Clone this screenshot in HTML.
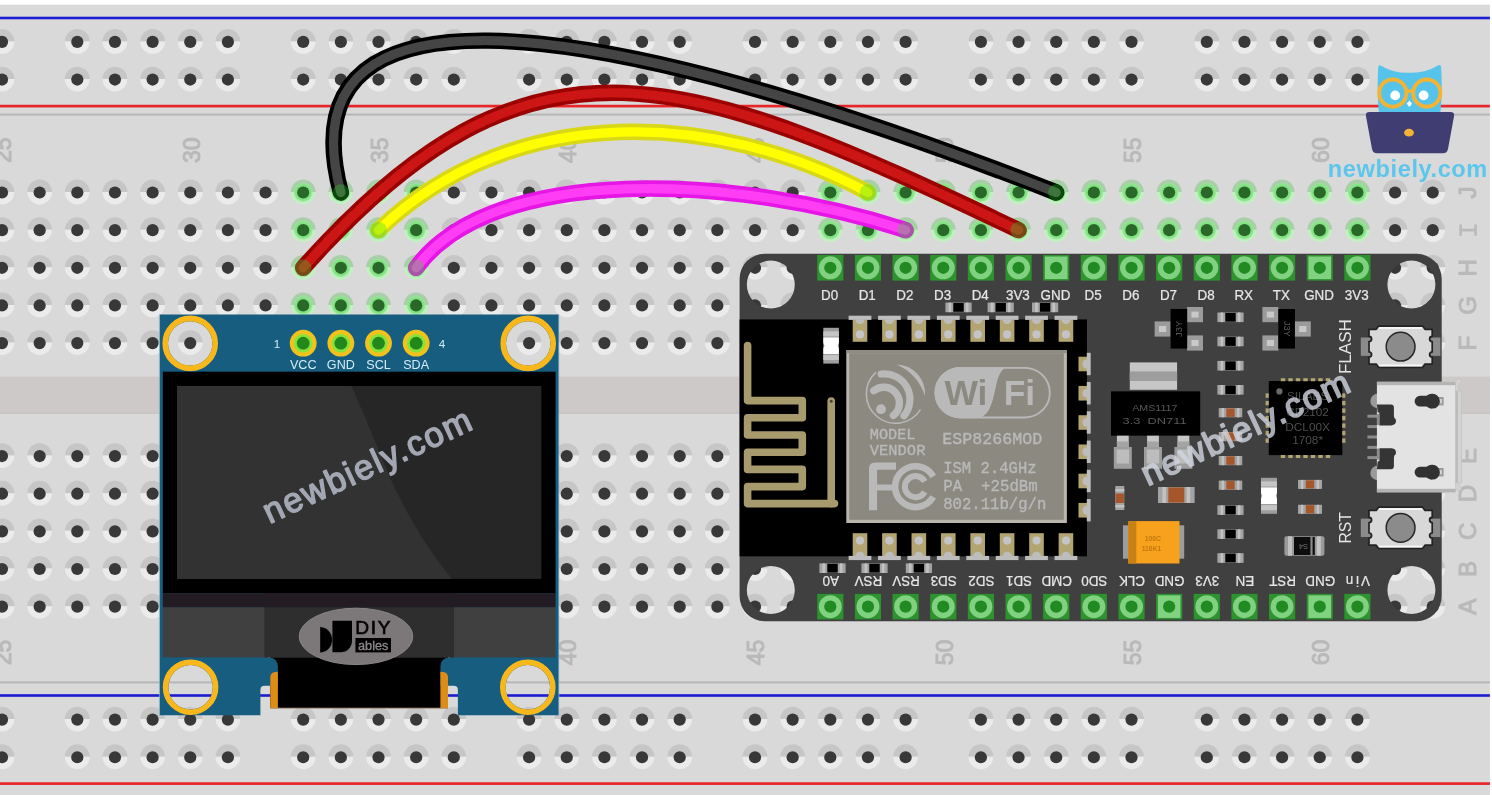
<!DOCTYPE html>
<html><head><meta charset="utf-8"><title>ESP8266 OLED wiring</title>
<style>
html,body{margin:0;padding:0;background:#fff;}
body{width:1492px;height:795px;overflow:hidden;font-family:"Liberation Sans",sans-serif;}
svg{display:block;}
</style></head><body>
<svg width="1492" height="795" viewBox="0 0 1492 795">
<defs><filter id="soft" filterUnits="userSpaceOnUse" x="-20" y="-20" width="1532" height="835"><feGaussianBlur stdDeviation="0.5"/></filter></defs>
<g filter="url(#soft)">
<defs>
<radialGradient id="glow"><stop offset="0" stop-color="#6fe06f"/><stop offset="0.8" stop-color="#82e482"/><stop offset="1" stop-color="#9be89b" stop-opacity="0.5"/></radialGradient>
<g id="h"><path d="M-12.4,-0.5 A12.4,12.4 0 0 1 12.4,-0.5 Z" fill="#c6c6c6"/><path d="M-12.4,-0.5 A12.4,12.4 0 0 0 12.4,-0.5 Z" fill="#ebebeb"/><circle r="6.1" fill="#383838"/></g>
<g id="g"><path d="M-12.4,-0.5 A12.4,12.4 0 0 1 12.4,-0.5 Z" fill="#a9cfa9"/><path d="M-12.4,-0.5 A12.4,12.4 0 0 0 12.4,-0.5 Z" fill="#c3efc3"/><circle r="9.6" fill="url(#glow)"/><circle r="6.1" fill="#2c672c"/></g>
</defs>
<rect x="-20" y="-20" width="1532" height="835" fill="#ffffff"/>
<rect x="-20" y="4.6" width="1509.9" height="811" fill="#d9d9d9"/>
<rect x="-20" y="376.6" width="1509.9" height="37.4" fill="#cdc9c8"/><rect x="-20" y="411.8" width="1509.9" height="2.2" fill="#c9c5c4"/>
<rect x="-20" y="16.70" width="1509.9" height="2.6" fill="#1b1bd2"/>
<rect x="-20" y="104.75" width="1509.9" height="2.7" fill="#e8262a"/>
<rect x="-20" y="113.60" width="1509.9" height="2.0" fill="#b7b7b7"/>
<rect x="-20" y="681.40" width="1509.9" height="2.0" fill="#b7b7b7"/>
<rect x="-20" y="694.20" width="1509.9" height="2.6" fill="#1b1bd2"/>
<rect x="-20" y="782.25" width="1509.9" height="2.7" fill="#e8262a"/>
<use href="#h" x="-35.65" y="192.50"/>
<use href="#h" x="-35.65" y="230.15"/>
<use href="#h" x="-35.65" y="267.80"/>
<use href="#h" x="-35.65" y="305.45"/>
<use href="#h" x="-35.65" y="343.10"/>
<use href="#h" x="-35.65" y="456.05"/>
<use href="#h" x="-35.65" y="493.70"/>
<use href="#h" x="-35.65" y="531.35"/>
<use href="#h" x="-35.65" y="569.00"/>
<use href="#h" x="-35.65" y="606.65"/>
<use href="#h" x="-35.65" y="41.90"/>
<use href="#h" x="-35.65" y="79.55"/>
<use href="#h" x="-35.65" y="719.60"/>
<use href="#h" x="-35.65" y="757.25"/>
<use href="#h" x="2.00" y="192.50"/>
<use href="#h" x="2.00" y="230.15"/>
<use href="#h" x="2.00" y="267.80"/>
<use href="#h" x="2.00" y="305.45"/>
<use href="#h" x="2.00" y="343.10"/>
<use href="#h" x="2.00" y="456.05"/>
<use href="#h" x="2.00" y="493.70"/>
<use href="#h" x="2.00" y="531.35"/>
<use href="#h" x="2.00" y="569.00"/>
<use href="#h" x="2.00" y="606.65"/>
<use href="#h" x="2.00" y="41.90"/>
<use href="#h" x="2.00" y="79.55"/>
<use href="#h" x="2.00" y="719.60"/>
<use href="#h" x="2.00" y="757.25"/>
<use href="#h" x="39.65" y="192.50"/>
<use href="#h" x="39.65" y="230.15"/>
<use href="#h" x="39.65" y="267.80"/>
<use href="#h" x="39.65" y="305.45"/>
<use href="#h" x="39.65" y="343.10"/>
<use href="#h" x="39.65" y="456.05"/>
<use href="#h" x="39.65" y="493.70"/>
<use href="#h" x="39.65" y="531.35"/>
<use href="#h" x="39.65" y="569.00"/>
<use href="#h" x="39.65" y="606.65"/>
<use href="#h" x="77.30" y="192.50"/>
<use href="#h" x="77.30" y="230.15"/>
<use href="#h" x="77.30" y="267.80"/>
<use href="#h" x="77.30" y="305.45"/>
<use href="#h" x="77.30" y="343.10"/>
<use href="#h" x="77.30" y="456.05"/>
<use href="#h" x="77.30" y="493.70"/>
<use href="#h" x="77.30" y="531.35"/>
<use href="#h" x="77.30" y="569.00"/>
<use href="#h" x="77.30" y="606.65"/>
<use href="#h" x="77.30" y="41.90"/>
<use href="#h" x="77.30" y="79.55"/>
<use href="#h" x="77.30" y="719.60"/>
<use href="#h" x="77.30" y="757.25"/>
<use href="#h" x="114.95" y="192.50"/>
<use href="#h" x="114.95" y="230.15"/>
<use href="#h" x="114.95" y="267.80"/>
<use href="#h" x="114.95" y="305.45"/>
<use href="#h" x="114.95" y="343.10"/>
<use href="#h" x="114.95" y="456.05"/>
<use href="#h" x="114.95" y="493.70"/>
<use href="#h" x="114.95" y="531.35"/>
<use href="#h" x="114.95" y="569.00"/>
<use href="#h" x="114.95" y="606.65"/>
<use href="#h" x="114.95" y="41.90"/>
<use href="#h" x="114.95" y="79.55"/>
<use href="#h" x="114.95" y="719.60"/>
<use href="#h" x="114.95" y="757.25"/>
<use href="#h" x="152.60" y="192.50"/>
<use href="#h" x="152.60" y="230.15"/>
<use href="#h" x="152.60" y="267.80"/>
<use href="#h" x="152.60" y="305.45"/>
<use href="#h" x="152.60" y="343.10"/>
<use href="#h" x="152.60" y="456.05"/>
<use href="#h" x="152.60" y="493.70"/>
<use href="#h" x="152.60" y="531.35"/>
<use href="#h" x="152.60" y="569.00"/>
<use href="#h" x="152.60" y="606.65"/>
<use href="#h" x="152.60" y="41.90"/>
<use href="#h" x="152.60" y="79.55"/>
<use href="#h" x="152.60" y="719.60"/>
<use href="#h" x="152.60" y="757.25"/>
<use href="#h" x="190.25" y="192.50"/>
<use href="#h" x="190.25" y="230.15"/>
<use href="#h" x="190.25" y="267.80"/>
<use href="#h" x="190.25" y="305.45"/>
<use href="#h" x="190.25" y="343.10"/>
<use href="#h" x="190.25" y="456.05"/>
<use href="#h" x="190.25" y="493.70"/>
<use href="#h" x="190.25" y="531.35"/>
<use href="#h" x="190.25" y="569.00"/>
<use href="#h" x="190.25" y="606.65"/>
<use href="#h" x="190.25" y="41.90"/>
<use href="#h" x="190.25" y="79.55"/>
<use href="#h" x="190.25" y="719.60"/>
<use href="#h" x="190.25" y="757.25"/>
<use href="#h" x="227.90" y="192.50"/>
<use href="#h" x="227.90" y="230.15"/>
<use href="#h" x="227.90" y="267.80"/>
<use href="#h" x="227.90" y="305.45"/>
<use href="#h" x="227.90" y="343.10"/>
<use href="#h" x="227.90" y="456.05"/>
<use href="#h" x="227.90" y="493.70"/>
<use href="#h" x="227.90" y="531.35"/>
<use href="#h" x="227.90" y="569.00"/>
<use href="#h" x="227.90" y="606.65"/>
<use href="#h" x="227.90" y="41.90"/>
<use href="#h" x="227.90" y="79.55"/>
<use href="#h" x="227.90" y="719.60"/>
<use href="#h" x="227.90" y="757.25"/>
<use href="#h" x="265.55" y="192.50"/>
<use href="#h" x="265.55" y="230.15"/>
<use href="#h" x="265.55" y="267.80"/>
<use href="#h" x="265.55" y="305.45"/>
<use href="#h" x="265.55" y="343.10"/>
<use href="#h" x="265.55" y="456.05"/>
<use href="#h" x="265.55" y="493.70"/>
<use href="#h" x="265.55" y="531.35"/>
<use href="#h" x="265.55" y="569.00"/>
<use href="#h" x="265.55" y="606.65"/>
<use href="#g" x="303.20" y="192.50"/>
<use href="#g" x="303.20" y="230.15"/>
<use href="#g" x="303.20" y="267.80"/>
<use href="#g" x="303.20" y="305.45"/>
<use href="#g" x="303.20" y="343.10"/>
<use href="#h" x="303.20" y="456.05"/>
<use href="#h" x="303.20" y="493.70"/>
<use href="#h" x="303.20" y="531.35"/>
<use href="#h" x="303.20" y="569.00"/>
<use href="#h" x="303.20" y="606.65"/>
<use href="#h" x="303.20" y="41.90"/>
<use href="#h" x="303.20" y="79.55"/>
<use href="#h" x="303.20" y="719.60"/>
<use href="#h" x="303.20" y="757.25"/>
<use href="#g" x="340.85" y="192.50"/>
<use href="#g" x="340.85" y="230.15"/>
<use href="#g" x="340.85" y="267.80"/>
<use href="#g" x="340.85" y="305.45"/>
<use href="#g" x="340.85" y="343.10"/>
<use href="#h" x="340.85" y="456.05"/>
<use href="#h" x="340.85" y="493.70"/>
<use href="#h" x="340.85" y="531.35"/>
<use href="#h" x="340.85" y="569.00"/>
<use href="#h" x="340.85" y="606.65"/>
<use href="#h" x="340.85" y="41.90"/>
<use href="#h" x="340.85" y="79.55"/>
<use href="#h" x="340.85" y="719.60"/>
<use href="#h" x="340.85" y="757.25"/>
<use href="#g" x="378.50" y="192.50"/>
<use href="#g" x="378.50" y="230.15"/>
<use href="#g" x="378.50" y="267.80"/>
<use href="#g" x="378.50" y="305.45"/>
<use href="#g" x="378.50" y="343.10"/>
<use href="#h" x="378.50" y="456.05"/>
<use href="#h" x="378.50" y="493.70"/>
<use href="#h" x="378.50" y="531.35"/>
<use href="#h" x="378.50" y="569.00"/>
<use href="#h" x="378.50" y="606.65"/>
<use href="#h" x="378.50" y="41.90"/>
<use href="#h" x="378.50" y="79.55"/>
<use href="#h" x="378.50" y="719.60"/>
<use href="#h" x="378.50" y="757.25"/>
<use href="#g" x="416.15" y="192.50"/>
<use href="#g" x="416.15" y="230.15"/>
<use href="#g" x="416.15" y="267.80"/>
<use href="#g" x="416.15" y="305.45"/>
<use href="#g" x="416.15" y="343.10"/>
<use href="#h" x="416.15" y="456.05"/>
<use href="#h" x="416.15" y="493.70"/>
<use href="#h" x="416.15" y="531.35"/>
<use href="#h" x="416.15" y="569.00"/>
<use href="#h" x="416.15" y="606.65"/>
<use href="#h" x="416.15" y="41.90"/>
<use href="#h" x="416.15" y="79.55"/>
<use href="#h" x="416.15" y="719.60"/>
<use href="#h" x="416.15" y="757.25"/>
<use href="#h" x="453.80" y="192.50"/>
<use href="#h" x="453.80" y="230.15"/>
<use href="#h" x="453.80" y="267.80"/>
<use href="#h" x="453.80" y="305.45"/>
<use href="#h" x="453.80" y="343.10"/>
<use href="#h" x="453.80" y="456.05"/>
<use href="#h" x="453.80" y="493.70"/>
<use href="#h" x="453.80" y="531.35"/>
<use href="#h" x="453.80" y="569.00"/>
<use href="#h" x="453.80" y="606.65"/>
<use href="#h" x="453.80" y="41.90"/>
<use href="#h" x="453.80" y="79.55"/>
<use href="#h" x="453.80" y="719.60"/>
<use href="#h" x="453.80" y="757.25"/>
<use href="#h" x="491.45" y="192.50"/>
<use href="#h" x="491.45" y="230.15"/>
<use href="#h" x="491.45" y="267.80"/>
<use href="#h" x="491.45" y="305.45"/>
<use href="#h" x="491.45" y="343.10"/>
<use href="#h" x="491.45" y="456.05"/>
<use href="#h" x="491.45" y="493.70"/>
<use href="#h" x="491.45" y="531.35"/>
<use href="#h" x="491.45" y="569.00"/>
<use href="#h" x="491.45" y="606.65"/>
<use href="#h" x="529.10" y="192.50"/>
<use href="#h" x="529.10" y="230.15"/>
<use href="#h" x="529.10" y="267.80"/>
<use href="#h" x="529.10" y="305.45"/>
<use href="#h" x="529.10" y="343.10"/>
<use href="#h" x="529.10" y="456.05"/>
<use href="#h" x="529.10" y="493.70"/>
<use href="#h" x="529.10" y="531.35"/>
<use href="#h" x="529.10" y="569.00"/>
<use href="#h" x="529.10" y="606.65"/>
<use href="#h" x="529.10" y="41.90"/>
<use href="#h" x="529.10" y="79.55"/>
<use href="#h" x="529.10" y="719.60"/>
<use href="#h" x="529.10" y="757.25"/>
<use href="#h" x="566.75" y="192.50"/>
<use href="#h" x="566.75" y="230.15"/>
<use href="#h" x="566.75" y="267.80"/>
<use href="#h" x="566.75" y="305.45"/>
<use href="#h" x="566.75" y="343.10"/>
<use href="#h" x="566.75" y="456.05"/>
<use href="#h" x="566.75" y="493.70"/>
<use href="#h" x="566.75" y="531.35"/>
<use href="#h" x="566.75" y="569.00"/>
<use href="#h" x="566.75" y="606.65"/>
<use href="#h" x="566.75" y="41.90"/>
<use href="#h" x="566.75" y="79.55"/>
<use href="#h" x="566.75" y="719.60"/>
<use href="#h" x="566.75" y="757.25"/>
<use href="#h" x="604.40" y="192.50"/>
<use href="#h" x="604.40" y="230.15"/>
<use href="#h" x="604.40" y="267.80"/>
<use href="#h" x="604.40" y="305.45"/>
<use href="#h" x="604.40" y="343.10"/>
<use href="#h" x="604.40" y="456.05"/>
<use href="#h" x="604.40" y="493.70"/>
<use href="#h" x="604.40" y="531.35"/>
<use href="#h" x="604.40" y="569.00"/>
<use href="#h" x="604.40" y="606.65"/>
<use href="#h" x="604.40" y="41.90"/>
<use href="#h" x="604.40" y="79.55"/>
<use href="#h" x="604.40" y="719.60"/>
<use href="#h" x="604.40" y="757.25"/>
<use href="#h" x="642.05" y="192.50"/>
<use href="#h" x="642.05" y="230.15"/>
<use href="#h" x="642.05" y="267.80"/>
<use href="#h" x="642.05" y="305.45"/>
<use href="#h" x="642.05" y="343.10"/>
<use href="#h" x="642.05" y="456.05"/>
<use href="#h" x="642.05" y="493.70"/>
<use href="#h" x="642.05" y="531.35"/>
<use href="#h" x="642.05" y="569.00"/>
<use href="#h" x="642.05" y="606.65"/>
<use href="#h" x="642.05" y="41.90"/>
<use href="#h" x="642.05" y="79.55"/>
<use href="#h" x="642.05" y="719.60"/>
<use href="#h" x="642.05" y="757.25"/>
<use href="#h" x="679.70" y="192.50"/>
<use href="#h" x="679.70" y="230.15"/>
<use href="#h" x="679.70" y="267.80"/>
<use href="#h" x="679.70" y="305.45"/>
<use href="#h" x="679.70" y="343.10"/>
<use href="#h" x="679.70" y="456.05"/>
<use href="#h" x="679.70" y="493.70"/>
<use href="#h" x="679.70" y="531.35"/>
<use href="#h" x="679.70" y="569.00"/>
<use href="#h" x="679.70" y="606.65"/>
<use href="#h" x="679.70" y="41.90"/>
<use href="#h" x="679.70" y="79.55"/>
<use href="#h" x="679.70" y="719.60"/>
<use href="#h" x="679.70" y="757.25"/>
<use href="#h" x="717.35" y="192.50"/>
<use href="#h" x="717.35" y="230.15"/>
<use href="#h" x="717.35" y="267.80"/>
<use href="#h" x="717.35" y="305.45"/>
<use href="#h" x="717.35" y="343.10"/>
<use href="#h" x="717.35" y="456.05"/>
<use href="#h" x="717.35" y="493.70"/>
<use href="#h" x="717.35" y="531.35"/>
<use href="#h" x="717.35" y="569.00"/>
<use href="#h" x="717.35" y="606.65"/>
<use href="#h" x="755.00" y="192.50"/>
<use href="#h" x="755.00" y="230.15"/>
<use href="#h" x="755.00" y="267.80"/>
<use href="#h" x="755.00" y="305.45"/>
<use href="#h" x="755.00" y="343.10"/>
<use href="#h" x="755.00" y="456.05"/>
<use href="#h" x="755.00" y="493.70"/>
<use href="#h" x="755.00" y="531.35"/>
<use href="#h" x="755.00" y="569.00"/>
<use href="#h" x="755.00" y="606.65"/>
<use href="#h" x="755.00" y="41.90"/>
<use href="#h" x="755.00" y="79.55"/>
<use href="#h" x="755.00" y="719.60"/>
<use href="#h" x="755.00" y="757.25"/>
<use href="#h" x="792.65" y="192.50"/>
<use href="#h" x="792.65" y="230.15"/>
<use href="#h" x="792.65" y="267.80"/>
<use href="#h" x="792.65" y="305.45"/>
<use href="#h" x="792.65" y="343.10"/>
<use href="#h" x="792.65" y="456.05"/>
<use href="#h" x="792.65" y="493.70"/>
<use href="#h" x="792.65" y="531.35"/>
<use href="#h" x="792.65" y="569.00"/>
<use href="#h" x="792.65" y="606.65"/>
<use href="#h" x="792.65" y="41.90"/>
<use href="#h" x="792.65" y="79.55"/>
<use href="#h" x="792.65" y="719.60"/>
<use href="#h" x="792.65" y="757.25"/>
<use href="#g" x="830.30" y="192.50"/>
<use href="#g" x="830.30" y="230.15"/>
<use href="#g" x="830.30" y="267.80"/>
<use href="#g" x="830.30" y="305.45"/>
<use href="#g" x="830.30" y="343.10"/>
<use href="#g" x="830.30" y="456.05"/>
<use href="#g" x="830.30" y="493.70"/>
<use href="#g" x="830.30" y="531.35"/>
<use href="#g" x="830.30" y="569.00"/>
<use href="#g" x="830.30" y="606.65"/>
<use href="#h" x="830.30" y="41.90"/>
<use href="#h" x="830.30" y="79.55"/>
<use href="#h" x="830.30" y="719.60"/>
<use href="#h" x="830.30" y="757.25"/>
<use href="#g" x="867.95" y="192.50"/>
<use href="#g" x="867.95" y="230.15"/>
<use href="#g" x="867.95" y="267.80"/>
<use href="#g" x="867.95" y="305.45"/>
<use href="#g" x="867.95" y="343.10"/>
<use href="#g" x="867.95" y="456.05"/>
<use href="#g" x="867.95" y="493.70"/>
<use href="#g" x="867.95" y="531.35"/>
<use href="#g" x="867.95" y="569.00"/>
<use href="#g" x="867.95" y="606.65"/>
<use href="#h" x="867.95" y="41.90"/>
<use href="#h" x="867.95" y="79.55"/>
<use href="#h" x="867.95" y="719.60"/>
<use href="#h" x="867.95" y="757.25"/>
<use href="#g" x="905.60" y="192.50"/>
<use href="#g" x="905.60" y="230.15"/>
<use href="#g" x="905.60" y="267.80"/>
<use href="#g" x="905.60" y="305.45"/>
<use href="#g" x="905.60" y="343.10"/>
<use href="#g" x="905.60" y="456.05"/>
<use href="#g" x="905.60" y="493.70"/>
<use href="#g" x="905.60" y="531.35"/>
<use href="#g" x="905.60" y="569.00"/>
<use href="#g" x="905.60" y="606.65"/>
<use href="#h" x="905.60" y="41.90"/>
<use href="#h" x="905.60" y="79.55"/>
<use href="#h" x="905.60" y="719.60"/>
<use href="#h" x="905.60" y="757.25"/>
<use href="#g" x="943.25" y="192.50"/>
<use href="#g" x="943.25" y="230.15"/>
<use href="#g" x="943.25" y="267.80"/>
<use href="#g" x="943.25" y="305.45"/>
<use href="#g" x="943.25" y="343.10"/>
<use href="#g" x="943.25" y="456.05"/>
<use href="#g" x="943.25" y="493.70"/>
<use href="#g" x="943.25" y="531.35"/>
<use href="#g" x="943.25" y="569.00"/>
<use href="#g" x="943.25" y="606.65"/>
<use href="#g" x="980.90" y="192.50"/>
<use href="#g" x="980.90" y="230.15"/>
<use href="#g" x="980.90" y="267.80"/>
<use href="#g" x="980.90" y="305.45"/>
<use href="#g" x="980.90" y="343.10"/>
<use href="#g" x="980.90" y="456.05"/>
<use href="#g" x="980.90" y="493.70"/>
<use href="#g" x="980.90" y="531.35"/>
<use href="#g" x="980.90" y="569.00"/>
<use href="#g" x="980.90" y="606.65"/>
<use href="#h" x="980.90" y="41.90"/>
<use href="#h" x="980.90" y="79.55"/>
<use href="#h" x="980.90" y="719.60"/>
<use href="#h" x="980.90" y="757.25"/>
<use href="#g" x="1018.55" y="192.50"/>
<use href="#g" x="1018.55" y="230.15"/>
<use href="#g" x="1018.55" y="267.80"/>
<use href="#g" x="1018.55" y="305.45"/>
<use href="#g" x="1018.55" y="343.10"/>
<use href="#g" x="1018.55" y="456.05"/>
<use href="#g" x="1018.55" y="493.70"/>
<use href="#g" x="1018.55" y="531.35"/>
<use href="#g" x="1018.55" y="569.00"/>
<use href="#g" x="1018.55" y="606.65"/>
<use href="#h" x="1018.55" y="41.90"/>
<use href="#h" x="1018.55" y="79.55"/>
<use href="#h" x="1018.55" y="719.60"/>
<use href="#h" x="1018.55" y="757.25"/>
<use href="#g" x="1056.20" y="192.50"/>
<use href="#g" x="1056.20" y="230.15"/>
<use href="#g" x="1056.20" y="267.80"/>
<use href="#g" x="1056.20" y="305.45"/>
<use href="#g" x="1056.20" y="343.10"/>
<use href="#g" x="1056.20" y="456.05"/>
<use href="#g" x="1056.20" y="493.70"/>
<use href="#g" x="1056.20" y="531.35"/>
<use href="#g" x="1056.20" y="569.00"/>
<use href="#g" x="1056.20" y="606.65"/>
<use href="#h" x="1056.20" y="41.90"/>
<use href="#h" x="1056.20" y="79.55"/>
<use href="#h" x="1056.20" y="719.60"/>
<use href="#h" x="1056.20" y="757.25"/>
<use href="#g" x="1093.85" y="192.50"/>
<use href="#g" x="1093.85" y="230.15"/>
<use href="#g" x="1093.85" y="267.80"/>
<use href="#g" x="1093.85" y="305.45"/>
<use href="#g" x="1093.85" y="343.10"/>
<use href="#g" x="1093.85" y="456.05"/>
<use href="#g" x="1093.85" y="493.70"/>
<use href="#g" x="1093.85" y="531.35"/>
<use href="#g" x="1093.85" y="569.00"/>
<use href="#g" x="1093.85" y="606.65"/>
<use href="#h" x="1093.85" y="41.90"/>
<use href="#h" x="1093.85" y="79.55"/>
<use href="#h" x="1093.85" y="719.60"/>
<use href="#h" x="1093.85" y="757.25"/>
<use href="#g" x="1131.50" y="192.50"/>
<use href="#g" x="1131.50" y="230.15"/>
<use href="#g" x="1131.50" y="267.80"/>
<use href="#g" x="1131.50" y="305.45"/>
<use href="#g" x="1131.50" y="343.10"/>
<use href="#g" x="1131.50" y="456.05"/>
<use href="#g" x="1131.50" y="493.70"/>
<use href="#g" x="1131.50" y="531.35"/>
<use href="#g" x="1131.50" y="569.00"/>
<use href="#g" x="1131.50" y="606.65"/>
<use href="#h" x="1131.50" y="41.90"/>
<use href="#h" x="1131.50" y="79.55"/>
<use href="#h" x="1131.50" y="719.60"/>
<use href="#h" x="1131.50" y="757.25"/>
<use href="#g" x="1169.15" y="192.50"/>
<use href="#g" x="1169.15" y="230.15"/>
<use href="#g" x="1169.15" y="267.80"/>
<use href="#g" x="1169.15" y="305.45"/>
<use href="#g" x="1169.15" y="343.10"/>
<use href="#g" x="1169.15" y="456.05"/>
<use href="#g" x="1169.15" y="493.70"/>
<use href="#g" x="1169.15" y="531.35"/>
<use href="#g" x="1169.15" y="569.00"/>
<use href="#g" x="1169.15" y="606.65"/>
<use href="#g" x="1206.80" y="192.50"/>
<use href="#g" x="1206.80" y="230.15"/>
<use href="#g" x="1206.80" y="267.80"/>
<use href="#g" x="1206.80" y="305.45"/>
<use href="#g" x="1206.80" y="343.10"/>
<use href="#g" x="1206.80" y="456.05"/>
<use href="#g" x="1206.80" y="493.70"/>
<use href="#g" x="1206.80" y="531.35"/>
<use href="#g" x="1206.80" y="569.00"/>
<use href="#g" x="1206.80" y="606.65"/>
<use href="#h" x="1206.80" y="41.90"/>
<use href="#h" x="1206.80" y="79.55"/>
<use href="#h" x="1206.80" y="719.60"/>
<use href="#h" x="1206.80" y="757.25"/>
<use href="#g" x="1244.45" y="192.50"/>
<use href="#g" x="1244.45" y="230.15"/>
<use href="#g" x="1244.45" y="267.80"/>
<use href="#g" x="1244.45" y="305.45"/>
<use href="#g" x="1244.45" y="343.10"/>
<use href="#g" x="1244.45" y="456.05"/>
<use href="#g" x="1244.45" y="493.70"/>
<use href="#g" x="1244.45" y="531.35"/>
<use href="#g" x="1244.45" y="569.00"/>
<use href="#g" x="1244.45" y="606.65"/>
<use href="#h" x="1244.45" y="41.90"/>
<use href="#h" x="1244.45" y="79.55"/>
<use href="#h" x="1244.45" y="719.60"/>
<use href="#h" x="1244.45" y="757.25"/>
<use href="#g" x="1282.10" y="192.50"/>
<use href="#g" x="1282.10" y="230.15"/>
<use href="#g" x="1282.10" y="267.80"/>
<use href="#g" x="1282.10" y="305.45"/>
<use href="#g" x="1282.10" y="343.10"/>
<use href="#g" x="1282.10" y="456.05"/>
<use href="#g" x="1282.10" y="493.70"/>
<use href="#g" x="1282.10" y="531.35"/>
<use href="#g" x="1282.10" y="569.00"/>
<use href="#g" x="1282.10" y="606.65"/>
<use href="#h" x="1282.10" y="41.90"/>
<use href="#h" x="1282.10" y="79.55"/>
<use href="#h" x="1282.10" y="719.60"/>
<use href="#h" x="1282.10" y="757.25"/>
<use href="#g" x="1319.75" y="192.50"/>
<use href="#g" x="1319.75" y="230.15"/>
<use href="#g" x="1319.75" y="267.80"/>
<use href="#g" x="1319.75" y="305.45"/>
<use href="#g" x="1319.75" y="343.10"/>
<use href="#g" x="1319.75" y="456.05"/>
<use href="#g" x="1319.75" y="493.70"/>
<use href="#g" x="1319.75" y="531.35"/>
<use href="#g" x="1319.75" y="569.00"/>
<use href="#g" x="1319.75" y="606.65"/>
<use href="#h" x="1319.75" y="41.90"/>
<use href="#h" x="1319.75" y="79.55"/>
<use href="#h" x="1319.75" y="719.60"/>
<use href="#h" x="1319.75" y="757.25"/>
<use href="#g" x="1357.40" y="192.50"/>
<use href="#g" x="1357.40" y="230.15"/>
<use href="#g" x="1357.40" y="267.80"/>
<use href="#g" x="1357.40" y="305.45"/>
<use href="#g" x="1357.40" y="343.10"/>
<use href="#g" x="1357.40" y="456.05"/>
<use href="#g" x="1357.40" y="493.70"/>
<use href="#g" x="1357.40" y="531.35"/>
<use href="#g" x="1357.40" y="569.00"/>
<use href="#g" x="1357.40" y="606.65"/>
<use href="#h" x="1357.40" y="41.90"/>
<use href="#h" x="1357.40" y="79.55"/>
<use href="#h" x="1357.40" y="719.60"/>
<use href="#h" x="1357.40" y="757.25"/>
<use href="#h" x="1395.05" y="192.50"/>
<use href="#h" x="1395.05" y="230.15"/>
<use href="#h" x="1395.05" y="267.80"/>
<use href="#h" x="1395.05" y="305.45"/>
<use href="#h" x="1395.05" y="343.10"/>
<use href="#h" x="1395.05" y="456.05"/>
<use href="#h" x="1395.05" y="493.70"/>
<use href="#h" x="1395.05" y="531.35"/>
<use href="#h" x="1395.05" y="569.00"/>
<use href="#h" x="1395.05" y="606.65"/>
<use href="#h" x="1432.70" y="192.50"/>
<use href="#h" x="1432.70" y="230.15"/>
<use href="#h" x="1432.70" y="267.80"/>
<use href="#h" x="1432.70" y="305.45"/>
<use href="#h" x="1432.70" y="343.10"/>
<use href="#h" x="1432.70" y="456.05"/>
<use href="#h" x="1432.70" y="493.70"/>
<use href="#h" x="1432.70" y="531.35"/>
<use href="#h" x="1432.70" y="569.00"/>
<use href="#h" x="1432.70" y="606.65"/>
<text transform="translate(3.20,150.2) rotate(-90)" text-anchor="middle" font-family="Liberation Sans, sans-serif" font-size="23" fill="#b9b9b9" stroke="#b9b9b9" stroke-width="1.05" dy="8.2">25</text>
<text transform="translate(3.20,652.5) rotate(-90)" text-anchor="middle" font-family="Liberation Sans, sans-serif" font-size="23" fill="#b9b9b9" stroke="#b9b9b9" stroke-width="1.05" dy="8.2">25</text>
<text transform="translate(191.45,150.2) rotate(-90)" text-anchor="middle" font-family="Liberation Sans, sans-serif" font-size="23" fill="#b9b9b9" stroke="#b9b9b9" stroke-width="1.05" dy="8.2">30</text>
<text transform="translate(191.45,652.5) rotate(-90)" text-anchor="middle" font-family="Liberation Sans, sans-serif" font-size="23" fill="#b9b9b9" stroke="#b9b9b9" stroke-width="1.05" dy="8.2">30</text>
<text transform="translate(379.70,150.2) rotate(-90)" text-anchor="middle" font-family="Liberation Sans, sans-serif" font-size="23" fill="#b9b9b9" stroke="#b9b9b9" stroke-width="1.05" dy="8.2">35</text>
<text transform="translate(379.70,652.5) rotate(-90)" text-anchor="middle" font-family="Liberation Sans, sans-serif" font-size="23" fill="#b9b9b9" stroke="#b9b9b9" stroke-width="1.05" dy="8.2">35</text>
<text transform="translate(567.95,150.2) rotate(-90)" text-anchor="middle" font-family="Liberation Sans, sans-serif" font-size="23" fill="#b9b9b9" stroke="#b9b9b9" stroke-width="1.05" dy="8.2">40</text>
<text transform="translate(567.95,652.5) rotate(-90)" text-anchor="middle" font-family="Liberation Sans, sans-serif" font-size="23" fill="#b9b9b9" stroke="#b9b9b9" stroke-width="1.05" dy="8.2">40</text>
<text transform="translate(756.20,150.2) rotate(-90)" text-anchor="middle" font-family="Liberation Sans, sans-serif" font-size="23" fill="#b9b9b9" stroke="#b9b9b9" stroke-width="1.05" dy="8.2">45</text>
<text transform="translate(756.20,652.5) rotate(-90)" text-anchor="middle" font-family="Liberation Sans, sans-serif" font-size="23" fill="#b9b9b9" stroke="#b9b9b9" stroke-width="1.05" dy="8.2">45</text>
<text transform="translate(944.45,150.2) rotate(-90)" text-anchor="middle" font-family="Liberation Sans, sans-serif" font-size="23" fill="#b9b9b9" stroke="#b9b9b9" stroke-width="1.05" dy="8.2">50</text>
<text transform="translate(944.45,652.5) rotate(-90)" text-anchor="middle" font-family="Liberation Sans, sans-serif" font-size="23" fill="#b9b9b9" stroke="#b9b9b9" stroke-width="1.05" dy="8.2">50</text>
<text transform="translate(1132.70,150.2) rotate(-90)" text-anchor="middle" font-family="Liberation Sans, sans-serif" font-size="23" fill="#b9b9b9" stroke="#b9b9b9" stroke-width="1.05" dy="8.2">55</text>
<text transform="translate(1132.70,652.5) rotate(-90)" text-anchor="middle" font-family="Liberation Sans, sans-serif" font-size="23" fill="#b9b9b9" stroke="#b9b9b9" stroke-width="1.05" dy="8.2">55</text>
<text transform="translate(1320.95,150.2) rotate(-90)" text-anchor="middle" font-family="Liberation Sans, sans-serif" font-size="23" fill="#b9b9b9" stroke="#b9b9b9" stroke-width="1.05" dy="8.2">60</text>
<text transform="translate(1320.95,652.5) rotate(-90)" text-anchor="middle" font-family="Liberation Sans, sans-serif" font-size="23" fill="#b9b9b9" stroke="#b9b9b9" stroke-width="1.05" dy="8.2">60</text>
<text transform="translate(1467.8,192.50) rotate(-90)" text-anchor="middle" font-family="Liberation Sans, sans-serif" font-size="24" fill="#b9b9b9" stroke="#b9b9b9" stroke-width="1.05" dy="8.6">J</text>
<path d="M1459.3,224.55 h2.6 v4.2 h12.4 v-4.2 h2.6 v11.2 h-2.6 v-4.2 h-12.4 v4.2 h-2.6 Z" fill="#bababa"/>
<text transform="translate(1467.8,267.80) rotate(-90)" text-anchor="middle" font-family="Liberation Sans, sans-serif" font-size="24" fill="#b9b9b9" stroke="#b9b9b9" stroke-width="1.05" dy="8.6">H</text>
<text transform="translate(1467.8,305.45) rotate(-90)" text-anchor="middle" font-family="Liberation Sans, sans-serif" font-size="24" fill="#b9b9b9" stroke="#b9b9b9" stroke-width="1.05" dy="8.6">G</text>
<text transform="translate(1467.8,343.10) rotate(-90)" text-anchor="middle" font-family="Liberation Sans, sans-serif" font-size="24" fill="#b9b9b9" stroke="#b9b9b9" stroke-width="1.05" dy="8.6">F</text>
<text transform="translate(1467.8,456.05) rotate(-90)" text-anchor="middle" font-family="Liberation Sans, sans-serif" font-size="24" fill="#b9b9b9" stroke="#b9b9b9" stroke-width="1.05" dy="8.6">E</text>
<text transform="translate(1467.8,493.70) rotate(-90)" text-anchor="middle" font-family="Liberation Sans, sans-serif" font-size="24" fill="#b9b9b9" stroke="#b9b9b9" stroke-width="1.05" dy="8.6">D</text>
<text transform="translate(1467.8,531.35) rotate(-90)" text-anchor="middle" font-family="Liberation Sans, sans-serif" font-size="24" fill="#b9b9b9" stroke="#b9b9b9" stroke-width="1.05" dy="8.6">C</text>
<text transform="translate(1467.8,569.00) rotate(-90)" text-anchor="middle" font-family="Liberation Sans, sans-serif" font-size="24" fill="#b9b9b9" stroke="#b9b9b9" stroke-width="1.05" dy="8.6">B</text>
<text transform="translate(1467.8,606.65) rotate(-90)" text-anchor="middle" font-family="Liberation Sans, sans-serif" font-size="24" fill="#b9b9b9" stroke="#b9b9b9" stroke-width="1.05" dy="8.6">A</text>
<g id="oled">
<rect x="270.3" y="655" width="177.7" height="53.2" fill="#000"/>
<path d="M159.5,314.4 H558.8 V715.2 H457.9 V690 Q457.9,685.8 453.7,685.8 H440.4 V667 Q440.4,657.5 450,657.5 V650 H268.3 V657.5 Q277.9,657.5 277.9,667 V685.8 H264.6 Q260.4,685.8 260.4,690 V715.2 H159.5 Z M168.0,343.4 a22.2,22.2 0 1 0 44.4,0 a22.2,22.2 0 1 0 -44.4,0 Z M506.00000000000006,343.4 a22.2,22.2 0 1 0 44.4,0 a22.2,22.2 0 1 0 -44.4,0 Z M168.4,687.2 a22.2,22.2 0 1 0 44.4,0 a22.2,22.2 0 1 0 -44.4,0 Z M505.59999999999997,687.2 a22.2,22.2 0 1 0 44.4,0 a22.2,22.2 0 1 0 -44.4,0 Z" fill="#175d80" fill-rule="evenodd"/>
<rect x="158.9" y="314.4" width="0.9" height="400.80000000000007" fill="#9fc3d4" opacity="0.7"/>
<rect x="558.5" y="314.4" width="0.9" height="400.80000000000007" fill="#9fc3d4" opacity="0.7"/>
<circle cx="190.2" cy="343.4" r="25" fill="none" stroke="#f8b81e" stroke-width="5.6"/>
<circle cx="528.2" cy="343.4" r="25" fill="none" stroke="#f8b81e" stroke-width="5.6"/>
<circle cx="190.6" cy="687.2" r="25" fill="none" stroke="#f8b81e" stroke-width="5.6"/>
<circle cx="527.8" cy="687.2" r="25" fill="none" stroke="#f8b81e" stroke-width="5.6"/>
<rect x="162.8" y="371.7" width="392.8" height="221.5" fill="#000"/>
<rect x="177" y="385.9" width="364.4" height="193" fill="#262626"/>
<path d="M177,385.9 H351.5 Q372,432 386,468 Q412,530 452,578.9 H177 Z" fill="#303030"/>
<rect x="162.8" y="593.2" width="392.8" height="14.4" fill="#241f22"/>
<rect x="162.8" y="607.5" width="392.8" height="49.9" fill="#3f3f41"/>
<rect x="264.4" y="593.2" width="189.6" height="14.4" fill="#211e20"/>
<rect x="264.4" y="607.5" width="189.6" height="49.9" fill="#2d2d2d"/>
<path d="M270.3,708.2 V677 Q270.3,671.7 277.9,671.7 V708.2 Z" fill="#dd8d12"/>
<path d="M448,708.2 V677 Q448,671.7 440.4,671.7 V708.2 Z" fill="#dd8d12"/>
<rect x="270.3" y="707.6" width="177.7" height="1" fill="#b9966a" opacity="0.7"/>
<ellipse cx="356" cy="636.4" rx="56.8" ry="28.2" fill="#7b7778" stroke="#8a8687" stroke-width="1"/>
<path d="M320.1,627 A12,12.7 0 0 1 320.1,652.4 Z" fill="#060606"/>
<path d="M332.4,620.7 H352 V641 A11.2,11.2 0 0 1 340.8,652.2 H332.4 Z" fill="#060606"/>
<text x="355.2" y="634.4" font-family="Liberation Sans, sans-serif" font-size="19.1" fill="#060606" stroke="#060606" stroke-width="0.7" textLength="35.4" lengthAdjust="spacing">DIY</text>
<rect x="355.4" y="638" width="35.6" height="14.4" fill="#060606"/>
<text x="373.2" y="649.6" font-family="Liberation Sans, sans-serif" font-size="12" fill="#8e8a8b" stroke="#8e8a8b" stroke-width="0.3" text-anchor="middle" textLength="30.2" lengthAdjust="spacingAndGlyphs">ables</text>
<circle cx="303.20" cy="343.2" r="13.4" fill="#f2c21c"/>
<circle cx="303.20" cy="343.2" r="9.2" fill="#86e33a"/>
<circle cx="303.20" cy="343.2" r="6.4" fill="#23881f"/>
<text x="303.20" y="368.6" font-family="Liberation Sans, sans-serif" font-size="12.6" fill="#d6ecf6" text-anchor="middle">VCC</text>
<circle cx="340.85" cy="343.2" r="13.4" fill="#f2c21c"/>
<circle cx="340.85" cy="343.2" r="9.2" fill="#86e33a"/>
<circle cx="340.85" cy="343.2" r="6.4" fill="#23881f"/>
<text x="340.85" y="368.6" font-family="Liberation Sans, sans-serif" font-size="12.6" fill="#d6ecf6" text-anchor="middle">GND</text>
<circle cx="378.50" cy="343.2" r="13.4" fill="#f2c21c"/>
<circle cx="378.50" cy="343.2" r="9.2" fill="#86e33a"/>
<circle cx="378.50" cy="343.2" r="6.4" fill="#23881f"/>
<text x="378.50" y="368.6" font-family="Liberation Sans, sans-serif" font-size="12.6" fill="#d6ecf6" text-anchor="middle">SCL</text>
<circle cx="416.15" cy="343.2" r="13.4" fill="#f2c21c"/>
<circle cx="416.15" cy="343.2" r="9.2" fill="#86e33a"/>
<circle cx="416.15" cy="343.2" r="6.4" fill="#23881f"/>
<text x="416.15" y="368.6" font-family="Liberation Sans, sans-serif" font-size="12.6" fill="#d6ecf6" text-anchor="middle">SDA</text>
<text x="277" y="347.6" font-family="Liberation Sans, sans-serif" font-size="11.6" fill="#d6ecf6" text-anchor="middle">1</text>
<text x="442" y="347.6" font-family="Liberation Sans, sans-serif" font-size="11.6" fill="#d6ecf6" text-anchor="middle">4</text>
<text transform="translate(371.9,476.3) rotate(-24.9)" font-family="Liberation Sans, sans-serif" font-size="34.5" fill="#a3a7b3" stroke="#a3a7b3" stroke-width="1.5" stroke-linejoin="round" text-anchor="middle" textLength="226" lengthAdjust="spacing">newbiely.com</text>
</g>
<g id="mcu">
<path d="M764.6,253.8 H1416.7 A25,25 0 0 1 1441.7,278.8 V596.2 A25,25 0 0 1 1416.7,621.2 H764.6 A25,25 0 0 1 739.6,596.2 V278.8 A25,25 0 0 1 764.6,253.8 Z M746.8,284.6 a24,24 0 1 0 48,0 a24,24 0 1 0 -48,0 Z M1387.4,284.6 a24,24 0 1 0 48,0 a24,24 0 1 0 -48,0 Z M746.8,590 a24,24 0 1 0 48,0 a24,24 0 1 0 -48,0 Z M1387.4,590 a24,24 0 1 0 48,0 a24,24 0 1 0 -48,0 Z " fill="#3f3f3f" fill-rule="evenodd"/>
<rect x="739.6" y="319.5" width="347.4" height="236.79999999999995" fill="#000"/>
<rect x="817.20" y="255.00" width="26.2" height="25.6" fill="#2d922d"/>
<circle cx="830.30" cy="267.80" r="11.5" fill="#80d280"/>
<circle cx="830.30" cy="267.80" r="6.1" fill="#218a21"/>
<text transform="translate(829.60,299.8) scale(0.9,1)" font-family="Liberation Sans, sans-serif" font-size="14.9" fill="#e6e6e6" stroke="#e6e6e6" stroke-width="0.25" text-anchor="middle">D0</text>
<rect x="854.85" y="255.00" width="26.2" height="25.6" fill="#2d922d"/>
<circle cx="867.95" cy="267.80" r="11.5" fill="#80d280"/>
<circle cx="867.95" cy="267.80" r="6.1" fill="#218a21"/>
<text transform="translate(867.25,299.8) scale(0.9,1)" font-family="Liberation Sans, sans-serif" font-size="14.9" fill="#e6e6e6" stroke="#e6e6e6" stroke-width="0.25" text-anchor="middle">D1</text>
<rect x="892.50" y="255.00" width="26.2" height="25.6" fill="#2d922d"/>
<circle cx="905.60" cy="267.80" r="11.5" fill="#80d280"/>
<circle cx="905.60" cy="267.80" r="6.1" fill="#218a21"/>
<text transform="translate(904.90,299.8) scale(0.9,1)" font-family="Liberation Sans, sans-serif" font-size="14.9" fill="#e6e6e6" stroke="#e6e6e6" stroke-width="0.25" text-anchor="middle">D2</text>
<rect x="930.15" y="255.00" width="26.2" height="25.6" fill="#2d922d"/>
<circle cx="943.25" cy="267.80" r="11.5" fill="#80d280"/>
<circle cx="943.25" cy="267.80" r="6.1" fill="#218a21"/>
<text transform="translate(942.55,299.8) scale(0.9,1)" font-family="Liberation Sans, sans-serif" font-size="14.9" fill="#e6e6e6" stroke="#e6e6e6" stroke-width="0.25" text-anchor="middle">D3</text>
<rect x="967.80" y="255.00" width="26.2" height="25.6" fill="#2d922d"/>
<circle cx="980.90" cy="267.80" r="11.5" fill="#80d280"/>
<circle cx="980.90" cy="267.80" r="6.1" fill="#218a21"/>
<text transform="translate(980.20,299.8) scale(0.9,1)" font-family="Liberation Sans, sans-serif" font-size="14.9" fill="#e6e6e6" stroke="#e6e6e6" stroke-width="0.25" text-anchor="middle">D4</text>
<rect x="1005.45" y="255.00" width="26.2" height="25.6" fill="#2d922d"/>
<circle cx="1018.55" cy="267.80" r="11.5" fill="#80d280"/>
<circle cx="1018.55" cy="267.80" r="6.1" fill="#218a21"/>
<text transform="translate(1017.85,299.8) scale(0.9,1)" font-family="Liberation Sans, sans-serif" font-size="14.9" fill="#e6e6e6" stroke="#e6e6e6" stroke-width="0.25" text-anchor="middle">3V3</text>
<rect x="1043.10" y="255.00" width="26.2" height="25.6" fill="#2d922d"/>
<rect x="1044.90" y="256.50" width="22.6" height="22.6" fill="#80d280"/>
<circle cx="1056.20" cy="267.80" r="6.1" fill="#218a21"/>
<text transform="translate(1055.50,299.8) scale(0.9,1)" font-family="Liberation Sans, sans-serif" font-size="14.9" fill="#e6e6e6" stroke="#e6e6e6" stroke-width="0.25" text-anchor="middle">GND</text>
<rect x="1080.75" y="255.00" width="26.2" height="25.6" fill="#2d922d"/>
<circle cx="1093.85" cy="267.80" r="11.5" fill="#80d280"/>
<circle cx="1093.85" cy="267.80" r="6.1" fill="#218a21"/>
<text transform="translate(1093.15,299.8) scale(0.9,1)" font-family="Liberation Sans, sans-serif" font-size="14.9" fill="#e6e6e6" stroke="#e6e6e6" stroke-width="0.25" text-anchor="middle">D5</text>
<rect x="1118.40" y="255.00" width="26.2" height="25.6" fill="#2d922d"/>
<circle cx="1131.50" cy="267.80" r="11.5" fill="#80d280"/>
<circle cx="1131.50" cy="267.80" r="6.1" fill="#218a21"/>
<text transform="translate(1130.80,299.8) scale(0.9,1)" font-family="Liberation Sans, sans-serif" font-size="14.9" fill="#e6e6e6" stroke="#e6e6e6" stroke-width="0.25" text-anchor="middle">D6</text>
<rect x="1156.05" y="255.00" width="26.2" height="25.6" fill="#2d922d"/>
<circle cx="1169.15" cy="267.80" r="11.5" fill="#80d280"/>
<circle cx="1169.15" cy="267.80" r="6.1" fill="#218a21"/>
<text transform="translate(1168.45,299.8) scale(0.9,1)" font-family="Liberation Sans, sans-serif" font-size="14.9" fill="#e6e6e6" stroke="#e6e6e6" stroke-width="0.25" text-anchor="middle">D7</text>
<rect x="1193.70" y="255.00" width="26.2" height="25.6" fill="#2d922d"/>
<circle cx="1206.80" cy="267.80" r="11.5" fill="#80d280"/>
<circle cx="1206.80" cy="267.80" r="6.1" fill="#218a21"/>
<text transform="translate(1206.10,299.8) scale(0.9,1)" font-family="Liberation Sans, sans-serif" font-size="14.9" fill="#e6e6e6" stroke="#e6e6e6" stroke-width="0.25" text-anchor="middle">D8</text>
<rect x="1231.35" y="255.00" width="26.2" height="25.6" fill="#2d922d"/>
<circle cx="1244.45" cy="267.80" r="11.5" fill="#80d280"/>
<circle cx="1244.45" cy="267.80" r="6.1" fill="#218a21"/>
<text transform="translate(1243.75,299.8) scale(0.9,1)" font-family="Liberation Sans, sans-serif" font-size="14.9" fill="#e6e6e6" stroke="#e6e6e6" stroke-width="0.25" text-anchor="middle">RX</text>
<rect x="1269.00" y="255.00" width="26.2" height="25.6" fill="#2d922d"/>
<circle cx="1282.10" cy="267.80" r="11.5" fill="#80d280"/>
<circle cx="1282.10" cy="267.80" r="6.1" fill="#218a21"/>
<text transform="translate(1281.40,299.8) scale(0.9,1)" font-family="Liberation Sans, sans-serif" font-size="14.9" fill="#e6e6e6" stroke="#e6e6e6" stroke-width="0.25" text-anchor="middle">TX</text>
<rect x="1306.65" y="255.00" width="26.2" height="25.6" fill="#2d922d"/>
<rect x="1308.45" y="256.50" width="22.6" height="22.6" fill="#80d280"/>
<circle cx="1319.75" cy="267.80" r="6.1" fill="#218a21"/>
<text transform="translate(1319.05,299.8) scale(0.9,1)" font-family="Liberation Sans, sans-serif" font-size="14.9" fill="#e6e6e6" stroke="#e6e6e6" stroke-width="0.25" text-anchor="middle">GND</text>
<rect x="1344.30" y="255.00" width="26.2" height="25.6" fill="#2d922d"/>
<circle cx="1357.40" cy="267.80" r="11.5" fill="#80d280"/>
<circle cx="1357.40" cy="267.80" r="6.1" fill="#218a21"/>
<text transform="translate(1356.70,299.8) scale(0.9,1)" font-family="Liberation Sans, sans-serif" font-size="14.9" fill="#e6e6e6" stroke="#e6e6e6" stroke-width="0.25" text-anchor="middle">3V3</text>
<rect x="817.20" y="593.85" width="26.2" height="25.6" fill="#2d922d"/>
<circle cx="830.30" cy="606.65" r="11.5" fill="#80d280"/>
<circle cx="830.30" cy="606.65" r="6.1" fill="#218a21"/>
<text transform="translate(830.80,575.7) rotate(180) scale(0.9,1)" font-family="Liberation Sans, sans-serif" font-size="14.9" fill="#e6e6e6" stroke="#e6e6e6" stroke-width="0.25" text-anchor="middle">A0</text>
<rect x="854.85" y="593.85" width="26.2" height="25.6" fill="#2d922d"/>
<circle cx="867.95" cy="606.65" r="11.5" fill="#80d280"/>
<circle cx="867.95" cy="606.65" r="6.1" fill="#218a21"/>
<text transform="translate(868.45,575.7) rotate(180) scale(0.9,1)" font-family="Liberation Sans, sans-serif" font-size="14.9" fill="#e6e6e6" stroke="#e6e6e6" stroke-width="0.25" text-anchor="middle">RSV</text>
<rect x="892.50" y="593.85" width="26.2" height="25.6" fill="#2d922d"/>
<circle cx="905.60" cy="606.65" r="11.5" fill="#80d280"/>
<circle cx="905.60" cy="606.65" r="6.1" fill="#218a21"/>
<text transform="translate(906.10,575.7) rotate(180) scale(0.9,1)" font-family="Liberation Sans, sans-serif" font-size="14.9" fill="#e6e6e6" stroke="#e6e6e6" stroke-width="0.25" text-anchor="middle">RSV</text>
<rect x="930.15" y="593.85" width="26.2" height="25.6" fill="#2d922d"/>
<circle cx="943.25" cy="606.65" r="11.5" fill="#80d280"/>
<circle cx="943.25" cy="606.65" r="6.1" fill="#218a21"/>
<text transform="translate(943.75,575.7) rotate(180) scale(0.9,1)" font-family="Liberation Sans, sans-serif" font-size="14.9" fill="#e6e6e6" stroke="#e6e6e6" stroke-width="0.25" text-anchor="middle">SD3</text>
<rect x="967.80" y="593.85" width="26.2" height="25.6" fill="#2d922d"/>
<circle cx="980.90" cy="606.65" r="11.5" fill="#80d280"/>
<circle cx="980.90" cy="606.65" r="6.1" fill="#218a21"/>
<text transform="translate(981.40,575.7) rotate(180) scale(0.9,1)" font-family="Liberation Sans, sans-serif" font-size="14.9" fill="#e6e6e6" stroke="#e6e6e6" stroke-width="0.25" text-anchor="middle">SD2</text>
<rect x="1005.45" y="593.85" width="26.2" height="25.6" fill="#2d922d"/>
<circle cx="1018.55" cy="606.65" r="11.5" fill="#80d280"/>
<circle cx="1018.55" cy="606.65" r="6.1" fill="#218a21"/>
<text transform="translate(1019.05,575.7) rotate(180) scale(0.9,1)" font-family="Liberation Sans, sans-serif" font-size="14.9" fill="#e6e6e6" stroke="#e6e6e6" stroke-width="0.25" text-anchor="middle">SD1</text>
<rect x="1043.10" y="593.85" width="26.2" height="25.6" fill="#2d922d"/>
<circle cx="1056.20" cy="606.65" r="11.5" fill="#80d280"/>
<circle cx="1056.20" cy="606.65" r="6.1" fill="#218a21"/>
<text transform="translate(1056.70,575.7) rotate(180) scale(0.9,1)" font-family="Liberation Sans, sans-serif" font-size="14.9" fill="#e6e6e6" stroke="#e6e6e6" stroke-width="0.25" text-anchor="middle">CMD</text>
<rect x="1080.75" y="593.85" width="26.2" height="25.6" fill="#2d922d"/>
<circle cx="1093.85" cy="606.65" r="11.5" fill="#80d280"/>
<circle cx="1093.85" cy="606.65" r="6.1" fill="#218a21"/>
<text transform="translate(1094.35,575.7) rotate(180) scale(0.9,1)" font-family="Liberation Sans, sans-serif" font-size="14.9" fill="#e6e6e6" stroke="#e6e6e6" stroke-width="0.25" text-anchor="middle">SD0</text>
<rect x="1118.40" y="593.85" width="26.2" height="25.6" fill="#2d922d"/>
<circle cx="1131.50" cy="606.65" r="11.5" fill="#80d280"/>
<circle cx="1131.50" cy="606.65" r="6.1" fill="#218a21"/>
<text transform="translate(1132.00,575.7) rotate(180) scale(0.9,1)" font-family="Liberation Sans, sans-serif" font-size="14.9" fill="#e6e6e6" stroke="#e6e6e6" stroke-width="0.25" text-anchor="middle">CLK</text>
<rect x="1156.05" y="593.85" width="26.2" height="25.6" fill="#2d922d"/>
<rect x="1157.85" y="595.35" width="22.6" height="22.6" fill="#80d280"/>
<circle cx="1169.15" cy="606.65" r="6.1" fill="#218a21"/>
<text transform="translate(1169.65,575.7) rotate(180) scale(0.9,1)" font-family="Liberation Sans, sans-serif" font-size="14.9" fill="#e6e6e6" stroke="#e6e6e6" stroke-width="0.25" text-anchor="middle">GND</text>
<rect x="1193.70" y="593.85" width="26.2" height="25.6" fill="#2d922d"/>
<circle cx="1206.80" cy="606.65" r="11.5" fill="#80d280"/>
<circle cx="1206.80" cy="606.65" r="6.1" fill="#218a21"/>
<text transform="translate(1207.30,575.7) rotate(180) scale(0.9,1)" font-family="Liberation Sans, sans-serif" font-size="14.9" fill="#e6e6e6" stroke="#e6e6e6" stroke-width="0.25" text-anchor="middle">3V3</text>
<rect x="1231.35" y="593.85" width="26.2" height="25.6" fill="#2d922d"/>
<circle cx="1244.45" cy="606.65" r="11.5" fill="#80d280"/>
<circle cx="1244.45" cy="606.65" r="6.1" fill="#218a21"/>
<text transform="translate(1244.95,575.7) rotate(180) scale(0.9,1)" font-family="Liberation Sans, sans-serif" font-size="14.9" fill="#e6e6e6" stroke="#e6e6e6" stroke-width="0.25" text-anchor="middle">EN</text>
<rect x="1269.00" y="593.85" width="26.2" height="25.6" fill="#2d922d"/>
<circle cx="1282.10" cy="606.65" r="11.5" fill="#80d280"/>
<circle cx="1282.10" cy="606.65" r="6.1" fill="#218a21"/>
<text transform="translate(1282.60,575.7) rotate(180) scale(0.9,1)" font-family="Liberation Sans, sans-serif" font-size="14.9" fill="#e6e6e6" stroke="#e6e6e6" stroke-width="0.25" text-anchor="middle">RST</text>
<rect x="1306.65" y="593.85" width="26.2" height="25.6" fill="#2d922d"/>
<rect x="1308.45" y="595.35" width="22.6" height="22.6" fill="#80d280"/>
<circle cx="1319.75" cy="606.65" r="6.1" fill="#218a21"/>
<text transform="translate(1320.25,575.7) rotate(180) scale(0.9,1)" font-family="Liberation Sans, sans-serif" font-size="14.9" fill="#e6e6e6" stroke="#e6e6e6" stroke-width="0.25" text-anchor="middle">GND</text>
<rect x="1344.30" y="593.85" width="26.2" height="25.6" fill="#2d922d"/>
<circle cx="1357.40" cy="606.65" r="11.5" fill="#80d280"/>
<circle cx="1357.40" cy="606.65" r="6.1" fill="#218a21"/>
<text transform="translate(1357.90,575.7) rotate(180) scale(0.9,1)" font-family="Liberation Sans, sans-serif" font-size="14.9" fill="#e6e6e6" stroke="#e6e6e6" stroke-width="0.25" text-anchor="middle">V<tspan dx="2.2">i</tspan><tspan dx="3.2">n</tspan></text>
<path d="M747.6,345.5 V400.6 H802.3 V417.8 H747.6 V435 H802.3 V452.2 H747.6 V469.4 H802.3 V486.6 H747.6 V503.6 H834.5" fill="none" stroke="#a79a6d" stroke-width="7.6" stroke-linejoin="round" stroke-linecap="round"/>
<path d="M831.2,401 V503.6" fill="none" stroke="#a79a6d" stroke-width="7.6" stroke-linecap="round"/>
<circle cx="831.2" cy="401.3" r="1.5" fill="#4a4330"/>
<rect x="823.3" y="327.8" width="15.6" height="35.8" fill="#9e9e9e"/>
<rect x="823.3" y="331.38" width="15.6" height="5.01" fill="#c4c4c4"/>
<rect x="823.3" y="355.01" width="15.6" height="5.01" fill="#c4c4c4"/>
<path d="M823.3,337.47 H838.9 V342.84 l-1.2,2.86 l1.2,2.86 V353.93 H823.3 V348.56 l1.2,-2.86 l-1.2,-2.86 Z" fill="#ffffff"/>
<rect x="852.70" y="319.5" width="14.6" height="22.3" fill="#b3a572"/>
<rect x="848.60" y="315.7" width="22.8" height="4.2" fill="#bdbdbd"/>
<path d="M855.40,319.5 h9.2 a4.6,4.6 0 0 1 -9.2,0 Z" fill="#bdbdbd"/>
<circle cx="860.00" cy="334.4" r="4.1" fill="#c4c4c8"/>
<rect x="852.70" y="533.2" width="14.6" height="23.2" fill="#b3a572"/>
<rect x="848.60" y="555.9" width="22.8" height="4.2" fill="#bdbdbd"/>
<path d="M855.40,556.3 h9.2 a4.6,4.6 0 0 0 -9.2,0 Z" fill="#bdbdbd"/>
<circle cx="860.00" cy="540.6" r="4.1" fill="#c4c4c8"/>
<rect x="882.12" y="319.5" width="14.6" height="22.3" fill="#b3a572"/>
<rect x="878.02" y="315.7" width="22.8" height="4.2" fill="#bdbdbd"/>
<path d="M884.82,319.5 h9.2 a4.6,4.6 0 0 1 -9.2,0 Z" fill="#bdbdbd"/>
<circle cx="889.42" cy="334.4" r="4.1" fill="#c4c4c8"/>
<rect x="882.12" y="533.2" width="14.6" height="23.2" fill="#b3a572"/>
<rect x="878.02" y="555.9" width="22.8" height="4.2" fill="#bdbdbd"/>
<path d="M884.82,556.3 h9.2 a4.6,4.6 0 0 0 -9.2,0 Z" fill="#bdbdbd"/>
<circle cx="889.42" cy="540.6" r="4.1" fill="#c4c4c8"/>
<rect x="911.54" y="319.5" width="14.6" height="22.3" fill="#b3a572"/>
<rect x="907.44" y="315.7" width="22.8" height="4.2" fill="#bdbdbd"/>
<path d="M914.24,319.5 h9.2 a4.6,4.6 0 0 1 -9.2,0 Z" fill="#bdbdbd"/>
<circle cx="918.84" cy="334.4" r="4.1" fill="#c4c4c8"/>
<rect x="911.54" y="533.2" width="14.6" height="23.2" fill="#b3a572"/>
<rect x="907.44" y="555.9" width="22.8" height="4.2" fill="#bdbdbd"/>
<path d="M914.24,556.3 h9.2 a4.6,4.6 0 0 0 -9.2,0 Z" fill="#bdbdbd"/>
<circle cx="918.84" cy="540.6" r="4.1" fill="#c4c4c8"/>
<rect x="940.96" y="319.5" width="14.6" height="22.3" fill="#b3a572"/>
<rect x="936.86" y="315.7" width="22.8" height="4.2" fill="#bdbdbd"/>
<path d="M943.66,319.5 h9.2 a4.6,4.6 0 0 1 -9.2,0 Z" fill="#bdbdbd"/>
<circle cx="948.26" cy="334.4" r="4.1" fill="#c4c4c8"/>
<rect x="940.96" y="533.2" width="14.6" height="23.2" fill="#b3a572"/>
<rect x="936.86" y="555.9" width="22.8" height="4.2" fill="#bdbdbd"/>
<path d="M943.66,556.3 h9.2 a4.6,4.6 0 0 0 -9.2,0 Z" fill="#bdbdbd"/>
<circle cx="948.26" cy="540.6" r="4.1" fill="#c4c4c8"/>
<rect x="970.38" y="319.5" width="14.6" height="22.3" fill="#b3a572"/>
<rect x="966.28" y="315.7" width="22.8" height="4.2" fill="#bdbdbd"/>
<path d="M973.08,319.5 h9.2 a4.6,4.6 0 0 1 -9.2,0 Z" fill="#bdbdbd"/>
<circle cx="977.68" cy="334.4" r="4.1" fill="#c4c4c8"/>
<rect x="970.38" y="533.2" width="14.6" height="23.2" fill="#b3a572"/>
<rect x="966.28" y="555.9" width="22.8" height="4.2" fill="#bdbdbd"/>
<path d="M973.08,556.3 h9.2 a4.6,4.6 0 0 0 -9.2,0 Z" fill="#bdbdbd"/>
<circle cx="977.68" cy="540.6" r="4.1" fill="#c4c4c8"/>
<rect x="999.80" y="319.5" width="14.6" height="22.3" fill="#b3a572"/>
<rect x="995.70" y="315.7" width="22.8" height="4.2" fill="#bdbdbd"/>
<path d="M1002.50,319.5 h9.2 a4.6,4.6 0 0 1 -9.2,0 Z" fill="#bdbdbd"/>
<circle cx="1007.10" cy="334.4" r="4.1" fill="#c4c4c8"/>
<rect x="999.80" y="533.2" width="14.6" height="23.2" fill="#b3a572"/>
<rect x="995.70" y="555.9" width="22.8" height="4.2" fill="#bdbdbd"/>
<path d="M1002.50,556.3 h9.2 a4.6,4.6 0 0 0 -9.2,0 Z" fill="#bdbdbd"/>
<circle cx="1007.10" cy="540.6" r="4.1" fill="#c4c4c8"/>
<rect x="1029.22" y="319.5" width="14.6" height="22.3" fill="#b3a572"/>
<rect x="1025.12" y="315.7" width="22.8" height="4.2" fill="#bdbdbd"/>
<path d="M1031.92,319.5 h9.2 a4.6,4.6 0 0 1 -9.2,0 Z" fill="#bdbdbd"/>
<circle cx="1036.52" cy="334.4" r="4.1" fill="#c4c4c8"/>
<rect x="1029.22" y="533.2" width="14.6" height="23.2" fill="#b3a572"/>
<rect x="1025.12" y="555.9" width="22.8" height="4.2" fill="#bdbdbd"/>
<path d="M1031.92,556.3 h9.2 a4.6,4.6 0 0 0 -9.2,0 Z" fill="#bdbdbd"/>
<circle cx="1036.52" cy="540.6" r="4.1" fill="#c4c4c8"/>
<rect x="1058.64" y="319.5" width="14.6" height="22.3" fill="#b3a572"/>
<rect x="1054.54" y="315.7" width="22.8" height="4.2" fill="#bdbdbd"/>
<path d="M1061.34,319.5 h9.2 a4.6,4.6 0 0 1 -9.2,0 Z" fill="#bdbdbd"/>
<circle cx="1065.94" cy="334.4" r="4.1" fill="#c4c4c8"/>
<rect x="1058.64" y="533.2" width="14.6" height="23.2" fill="#b3a572"/>
<rect x="1054.54" y="555.9" width="22.8" height="4.2" fill="#bdbdbd"/>
<path d="M1061.34,556.3 h9.2 a4.6,4.6 0 0 0 -9.2,0 Z" fill="#bdbdbd"/>
<circle cx="1065.94" cy="540.6" r="4.1" fill="#c4c4c8"/>
<rect x="1078.5" y="356.70" width="9" height="14.6" fill="#b3a572"/>
<rect x="1086.8" y="352.80" width="3.9" height="22.4" fill="#bdbdbd"/>
<path d="M1087,359.40 v9.2 a4.6,4.6 0 0 1 0,-9.2 Z" fill="#bdbdbd"/>
<rect x="1078.5" y="385.95" width="9" height="14.6" fill="#b3a572"/>
<rect x="1086.8" y="382.05" width="3.9" height="22.4" fill="#bdbdbd"/>
<path d="M1087,388.65 v9.2 a4.6,4.6 0 0 1 0,-9.2 Z" fill="#bdbdbd"/>
<rect x="1078.5" y="415.20" width="9" height="14.6" fill="#b3a572"/>
<rect x="1086.8" y="411.30" width="3.9" height="22.4" fill="#bdbdbd"/>
<path d="M1087,417.90 v9.2 a4.6,4.6 0 0 1 0,-9.2 Z" fill="#bdbdbd"/>
<rect x="1078.5" y="444.45" width="9" height="14.6" fill="#b3a572"/>
<rect x="1086.8" y="440.55" width="3.9" height="22.4" fill="#bdbdbd"/>
<path d="M1087,447.15 v9.2 a4.6,4.6 0 0 1 0,-9.2 Z" fill="#bdbdbd"/>
<rect x="1078.5" y="473.70" width="9" height="14.6" fill="#b3a572"/>
<rect x="1086.8" y="469.80" width="3.9" height="22.4" fill="#bdbdbd"/>
<path d="M1087,476.40 v9.2 a4.6,4.6 0 0 1 0,-9.2 Z" fill="#bdbdbd"/>
<rect x="1078.5" y="502.95" width="9" height="14.6" fill="#b3a572"/>
<rect x="1086.8" y="499.05" width="3.9" height="22.4" fill="#bdbdbd"/>
<path d="M1087,505.65 v9.2 a4.6,4.6 0 0 1 0,-9.2 Z" fill="#bdbdbd"/>
<rect x="846.3" y="350.2" width="220.6" height="172.8" fill="#b9b6ad"/>
<rect x="846.3" y="350.2" width="220.6" height="3" fill="#8f8c84"/>
<rect x="849.2" y="353.2" width="214.6" height="166.6" fill="#8b8980"/>
<path d="M876.1,372.1 A29.3,29.3 0 1 0 920.4,409.6" fill="none" stroke="#b9b9b9" stroke-width="1.5"/>
<path d="M896.5,364.4 A29.3,29.3 0 0 1 925,396 A52,52 0 0 0 896.5,364.4 Z" fill="#b9b9b9"/>
<path d="M873.8,390.6 A15.4,15.4 0 1 1 893.4,415.4" fill="none" stroke="#b9b9b9" stroke-width="7.4" stroke-linecap="round"/>
<path d="M881.2,374 A25.6,25.6 0 0 1 904,415.8" fill="none" stroke="#b9b9b9" stroke-width="7.2" stroke-linecap="round"/>
<circle cx="881" cy="409.2" r="4.9" fill="#b9b9b9"/>
<rect x="935.4" y="367.9" width="114.4" height="49.6" rx="24.8" ry="24.8" fill="none" stroke="#b9b9b9" stroke-width="1.8"/>
<path d="M960.1,367 H1006.6 C995.5,372 996.5,392 991,405 Q986.5,418.3 975,418.3 H960.1 A25.65,25.65 0 0 1 960.1,367 Z" fill="#b9b9b9"/>
<text x="944.4" y="405" font-family="Liberation Sans, sans-serif" font-size="35.4" font-weight="bold" fill="#8b8980">Wi</text>
<text x="1003.7" y="405" font-family="Liberation Sans, sans-serif" font-size="35.4" font-weight="bold" fill="#b9b9b9">Fi</text>
<text x="869.8" y="438.7" font-family="Liberation Mono, monospace" font-size="15.2" fill="#b9b9b9" stroke="#b9b9b9" stroke-width="0.35" textLength="45.7" lengthAdjust="spacingAndGlyphs" xml:space="preserve">MODEL</text>
<text x="869.8" y="454.9" font-family="Liberation Mono, monospace" font-size="15.2" fill="#b9b9b9" stroke="#b9b9b9" stroke-width="0.35" textLength="55.6" lengthAdjust="spacingAndGlyphs" xml:space="preserve">VENDOR</text>
<text x="942.3" y="444.4" font-family="Liberation Mono, monospace" font-size="16.6" fill="#b9b9b9" stroke="#b9b9b9" stroke-width="0.35" textLength="99.9" lengthAdjust="spacingAndGlyphs" xml:space="preserve">ESP8266MOD</text>
<text x="943.2" y="472.9" font-family="Liberation Mono, monospace" font-size="16.2" fill="#b9b9b9" stroke="#b9b9b9" stroke-width="0.35" textLength="93.4" lengthAdjust="spacingAndGlyphs" xml:space="preserve">ISM 2.4GHz</text>
<text x="943.2" y="490.8" font-family="Liberation Mono, monospace" font-size="16.2" fill="#b9b9b9" stroke="#b9b9b9" stroke-width="0.35" textLength="94.6" lengthAdjust="spacingAndGlyphs" xml:space="preserve">PA  +25dBm</text>
<text x="943.2" y="508.6" font-family="Liberation Mono, monospace" font-size="16.2" fill="#b9b9b9" stroke="#b9b9b9" stroke-width="0.35" textLength="103.2" lengthAdjust="spacingAndGlyphs" xml:space="preserve">802.11b/g/n</text>
<path d="M869,510.3 V468.4 Q869,462.4 875,462.4 H896 V469.7 H877.1 V484.5 H895 V490.4 H877.1 V510.3 Z" fill="#b9b9b9"/>
<path d="M933.2,476.5 A20.4,20.4 0 1 0 933.2,496.9" fill="none" stroke="#b9b9b9" stroke-width="6.6"/>
<path d="M924.7,481.4 A10.6,10.6 0 1 0 924.7,492" fill="none" stroke="#b9b9b9" stroke-width="6"/>
<rect x="945.40" y="302.60" width="26.2" height="9.6" fill="#a3a3a3"/>
<rect x="948.54" y="302.60" width="2.62" height="9.6" fill="#c2c2c2"/>
<rect x="965.84" y="302.60" width="2.62" height="9.6" fill="#c2c2c2"/>
<rect x="953.26" y="303.00" width="10.48" height="8.799999999999999" fill="#000"/>
<rect x="987.60" y="302.60" width="26.2" height="9.6" fill="#a3a3a3"/>
<rect x="990.74" y="302.60" width="2.62" height="9.6" fill="#c2c2c2"/>
<rect x="1008.04" y="302.60" width="2.62" height="9.6" fill="#c2c2c2"/>
<rect x="995.46" y="303.00" width="10.48" height="8.799999999999999" fill="#000"/>
<rect x="1032.00" y="302.60" width="26.2" height="9.6" fill="#a3a3a3"/>
<rect x="1035.14" y="302.60" width="2.62" height="9.6" fill="#c2c2c2"/>
<rect x="1052.44" y="302.60" width="2.62" height="9.6" fill="#c2c2c2"/>
<rect x="1039.86" y="303.00" width="10.48" height="8.799999999999999" fill="#000"/>
<rect x="819.40" y="563.40" width="26.2" height="9.6" fill="#a3a3a3"/>
<rect x="822.54" y="563.40" width="2.62" height="9.6" fill="#c2c2c2"/>
<rect x="839.84" y="563.40" width="2.62" height="9.6" fill="#c2c2c2"/>
<rect x="827.26" y="563.80" width="10.48" height="8.799999999999999" fill="#000"/>
<rect x="861.40" y="563.40" width="26.2" height="9.6" fill="#a3a3a3"/>
<rect x="864.54" y="563.40" width="2.62" height="9.6" fill="#c2c2c2"/>
<rect x="881.84" y="563.40" width="2.62" height="9.6" fill="#c2c2c2"/>
<rect x="869.26" y="563.80" width="10.48" height="8.799999999999999" fill="#000"/>
<rect x="905.80" y="563.40" width="26.2" height="9.6" fill="#a3a3a3"/>
<rect x="908.94" y="563.40" width="2.62" height="9.6" fill="#c2c2c2"/>
<rect x="926.24" y="563.40" width="2.62" height="9.6" fill="#c2c2c2"/>
<rect x="913.66" y="563.80" width="10.48" height="8.799999999999999" fill="#000"/>
<rect x="1217.40" y="312.50" width="26.2" height="9.6" fill="#a3a3a3"/>
<rect x="1220.54" y="312.50" width="2.62" height="9.6" fill="#c2c2c2"/>
<rect x="1237.84" y="312.50" width="2.62" height="9.6" fill="#c2c2c2"/>
<rect x="1225.26" y="312.90" width="10.48" height="8.799999999999999" fill="#000"/>
<rect x="1217.40" y="336.70" width="26.2" height="9.6" fill="#a3a3a3"/>
<rect x="1220.54" y="336.70" width="2.62" height="9.6" fill="#c2c2c2"/>
<rect x="1237.84" y="336.70" width="2.62" height="9.6" fill="#c2c2c2"/>
<rect x="1225.26" y="337.10" width="10.48" height="8.799999999999999" fill="#000"/>
<rect x="1217.40" y="360.90" width="26.2" height="9.6" fill="#a3a3a3"/>
<rect x="1220.54" y="360.90" width="2.62" height="9.6" fill="#c2c2c2"/>
<rect x="1237.84" y="360.90" width="2.62" height="9.6" fill="#c2c2c2"/>
<rect x="1225.26" y="361.30" width="10.48" height="8.799999999999999" fill="#000"/>
<rect x="1217.40" y="385.00" width="26.2" height="9.6" fill="#a3a3a3"/>
<rect x="1220.54" y="385.00" width="2.62" height="9.6" fill="#c2c2c2"/>
<rect x="1237.84" y="385.00" width="2.62" height="9.6" fill="#c2c2c2"/>
<rect x="1225.26" y="385.40" width="10.48" height="8.799999999999999" fill="#000"/>
<rect x="1218.75" y="408.10" width="23.5" height="9.2" fill="#a3a3a3"/>
<rect x="1221.57" y="408.10" width="2.35" height="9.2" fill="#c2c2c2"/>
<rect x="1237.08" y="408.10" width="2.35" height="9.2" fill="#c2c2c2"/>
<rect x="1226.30" y="408.50" width="8.40" height="8.399999999999999" fill="#a5562a"/>
<rect x="1218.75" y="432.00" width="23.5" height="9.2" fill="#a3a3a3"/>
<rect x="1221.57" y="432.00" width="2.35" height="9.2" fill="#c2c2c2"/>
<rect x="1237.08" y="432.00" width="2.35" height="9.2" fill="#c2c2c2"/>
<rect x="1226.30" y="432.40" width="8.40" height="8.399999999999999" fill="#a5562a"/>
<rect x="1218.75" y="456.00" width="23.5" height="9.2" fill="#a3a3a3"/>
<rect x="1221.57" y="456.00" width="2.35" height="9.2" fill="#c2c2c2"/>
<rect x="1237.08" y="456.00" width="2.35" height="9.2" fill="#c2c2c2"/>
<rect x="1226.30" y="456.40" width="8.40" height="8.399999999999999" fill="#a5562a"/>
<rect x="1218.75" y="480.60" width="23.5" height="9.2" fill="#a3a3a3"/>
<rect x="1221.57" y="480.60" width="2.35" height="9.2" fill="#c2c2c2"/>
<rect x="1237.08" y="480.60" width="2.35" height="9.2" fill="#c2c2c2"/>
<rect x="1226.30" y="481.00" width="8.40" height="8.399999999999999" fill="#a5562a"/>
<rect x="1217.40" y="505.30" width="26.2" height="9.6" fill="#a3a3a3"/>
<rect x="1220.54" y="505.30" width="2.62" height="9.6" fill="#c2c2c2"/>
<rect x="1237.84" y="505.30" width="2.62" height="9.6" fill="#c2c2c2"/>
<rect x="1225.26" y="505.70" width="10.48" height="8.799999999999999" fill="#000"/>
<rect x="1217.40" y="529.30" width="26.2" height="9.6" fill="#a3a3a3"/>
<rect x="1220.54" y="529.30" width="2.62" height="9.6" fill="#c2c2c2"/>
<rect x="1237.84" y="529.30" width="2.62" height="9.6" fill="#c2c2c2"/>
<rect x="1225.26" y="529.70" width="10.48" height="8.799999999999999" fill="#000"/>
<rect x="1217.40" y="553.20" width="26.2" height="9.6" fill="#a3a3a3"/>
<rect x="1220.54" y="553.20" width="2.62" height="9.6" fill="#c2c2c2"/>
<rect x="1237.84" y="553.20" width="2.62" height="9.6" fill="#c2c2c2"/>
<rect x="1225.26" y="553.60" width="10.48" height="8.799999999999999" fill="#000"/>
<rect x="1298.00" y="479.90" width="24" height="9" fill="#a3a3a3"/>
<rect x="1300.88" y="479.90" width="2.40" height="9" fill="#c2c2c2"/>
<rect x="1316.72" y="479.90" width="2.40" height="9" fill="#c2c2c2"/>
<rect x="1305.80" y="480.30" width="8.40" height="8.2" fill="#a5562a"/>
<rect x="1298.00" y="504.80" width="24" height="9" fill="#a3a3a3"/>
<rect x="1300.88" y="504.80" width="2.40" height="9" fill="#c2c2c2"/>
<rect x="1316.72" y="504.80" width="2.40" height="9" fill="#c2c2c2"/>
<rect x="1305.80" y="505.20" width="8.40" height="8.2" fill="#a5562a"/>
<rect x="1158.00" y="487.00" width="36.6" height="16" fill="#a3a3a3"/>
<rect x="1162.39" y="487.00" width="3.66" height="16" fill="#c2c2c2"/>
<rect x="1186.55" y="487.00" width="3.66" height="16" fill="#c2c2c2"/>
<rect x="1168.30" y="487.40" width="16.00" height="15.2" fill="#a5562a"/>
<rect x="1115.3" y="486" width="9" height="24" fill="#a3a3a3"/><rect x="1115.3" y="489" width="9" height="2.4" fill="#c2c2c2"/><rect x="1115.3" y="505" width="9" height="2.4" fill="#c2c2c2"/><rect x="1115.7" y="493.5" width="8.2" height="9.5" fill="#a5562a"/>
<rect x="1261" y="477.8" width="16" height="36" fill="#9e9e9e"/>
<rect x="1261" y="481.40" width="16" height="5.04" fill="#c4c4c4"/>
<rect x="1261" y="505.16" width="16" height="5.04" fill="#c4c4c4"/>
<path d="M1261,487.52 H1277 V492.92 l-1.2,2.88 l1.2,2.88 V504.08 H1261 V498.68 l1.2,-2.88 l-1.2,-2.88 Z" fill="#ffffff"/>
<rect x="1284.4" y="536.3" width="40" height="19.4" rx="2" fill="#9a9a9a"/><rect x="1288" y="536.3" width="4" height="19.4" fill="#c2c2c2"/><rect x="1316.8" y="536.3" width="4" height="19.4" fill="#c2c2c2"/><rect x="1294" y="537" width="20.8" height="18" fill="#0a0a0a"/><rect x="1310.4" y="537" width="2.2" height="18" fill="#8a8a8a"/>
<text transform="translate(1303.3,546.3) rotate(180)" font-family="Liberation Sans, sans-serif" font-size="7.5" fill="#777" text-anchor="middle" dy="2.7">S4</text>
<rect x="1123" y="525.3" width="61.2" height="33.4" fill="#9c9c9c"/>
<rect x="1128.3" y="521.1" width="51.2" height="42.4" fill="#f8a11c"/>
<rect x="1128.3" y="521.1" width="8" height="42.4" fill="#c78112"/>
<text x="1152.8" y="540.5" font-family="Liberation Sans, sans-serif" font-size="6.8" font-weight="bold" fill="#c47a12" text-anchor="middle">106C</text>
<text x="1151.5" y="550.8" font-family="Liberation Sans, sans-serif" font-size="6.8" font-weight="bold" fill="#c47a12" text-anchor="middle">116K1</text>
<rect x="1129.8" y="362.4" width="47.3" height="27.4" fill="#c6c6c6"/><rect x="1129.8" y="371.4" width="47.3" height="9.6" fill="#9d9d9d"/>
<rect x="1116.90" y="435" width="11.8" height="12" fill="#c6c6c6"/>
<rect x="1116.90" y="441.5" width="11.8" height="5.5" fill="#a4a4a4"/>
<rect x="1113.80" y="447" width="18" height="21.8" fill="#9d9d9d"/>
<rect x="1116.60" y="449.5" width="12.4" height="14" fill="#bdbdbd"/>
<rect x="1147.10" y="435" width="11.8" height="12" fill="#c6c6c6"/>
<rect x="1147.10" y="441.5" width="11.8" height="5.5" fill="#a4a4a4"/>
<rect x="1144.00" y="447" width="18" height="21.8" fill="#9d9d9d"/>
<rect x="1146.80" y="449.5" width="12.4" height="14" fill="#bdbdbd"/>
<rect x="1177.50" y="435" width="11.8" height="12" fill="#c6c6c6"/>
<rect x="1177.50" y="441.5" width="11.8" height="5.5" fill="#a4a4a4"/>
<rect x="1174.40" y="447" width="18" height="21.8" fill="#9d9d9d"/>
<rect x="1177.20" y="449.5" width="12.4" height="14" fill="#bdbdbd"/>
<rect x="1111" y="391.4" width="89.2" height="44.2" fill="#000"/>
<text x="1154.8" y="410.7" font-family="Liberation Sans, sans-serif" font-size="9.8" fill="#585858" text-anchor="middle" textLength="45" lengthAdjust="spacingAndGlyphs">AMS1117</text>
<text x="1154.6" y="423.8" font-family="Liberation Sans, sans-serif" font-size="9.8" fill="#585858" text-anchor="middle" textLength="64" lengthAdjust="spacingAndGlyphs" xml:space="preserve">3.3  DN711</text>
<rect x="1154.60" y="321.40" width="16" height="15.2" fill="#9b9b9b"/><rect x="1159.00" y="326.00" width="7.2" height="6" fill="#c9c9c9"/>
<rect x="1187.00" y="307.00" width="16" height="15.2" fill="#9b9b9b"/><rect x="1191.40" y="311.60" width="7.2" height="6" fill="#c9c9c9"/>
<rect x="1187.00" y="335.40" width="16" height="15.2" fill="#9b9b9b"/><rect x="1191.40" y="340.00" width="7.2" height="6" fill="#c9c9c9"/>
<rect x="1170.6" y="309" width="16.6" height="39.5" fill="#000"/>
<text transform="translate(1179,328.8) rotate(-90)" font-family="Liberation Sans, sans-serif" font-size="9.4" fill="#5a5a5a" text-anchor="middle" dy="2.7">J3Y</text>
<rect x="1262.40" y="307.00" width="16" height="15.2" fill="#9b9b9b"/><rect x="1266.80" y="311.60" width="7.2" height="6" fill="#c9c9c9"/>
<rect x="1262.40" y="335.40" width="16" height="15.2" fill="#9b9b9b"/><rect x="1266.80" y="340.00" width="7.2" height="6" fill="#c9c9c9"/>
<rect x="1294.80" y="321.40" width="16" height="15.2" fill="#9b9b9b"/><rect x="1299.20" y="326.00" width="7.2" height="6" fill="#c9c9c9"/>
<rect x="1278.3" y="309" width="16.6" height="39.5" fill="#000"/>
<text transform="translate(1286.6,328.8) rotate(90)" font-family="Liberation Sans, sans-serif" font-size="9.4" fill="#5a5a5a" text-anchor="middle" dy="2.7">J3Y</text>
<rect x="1268.8" y="381.1" width="73.5" height="74" fill="#000"/>
<rect x="1280.80" y="378.2" width="4.4" height="3" fill="#b3a572"/><rect x="1280.80" y="455" width="4.4" height="3" fill="#b3a572"/>
<rect x="1265.6" y="393.40" width="3.2" height="4.4" fill="#b3a572"/><rect x="1342.2" y="393.40" width="3.2" height="4.4" fill="#b3a572"/>
<rect x="1288.30" y="378.2" width="4.4" height="3" fill="#b3a572"/><rect x="1288.30" y="455" width="4.4" height="3" fill="#b3a572"/>
<rect x="1265.6" y="400.90" width="3.2" height="4.4" fill="#b3a572"/><rect x="1342.2" y="400.90" width="3.2" height="4.4" fill="#b3a572"/>
<rect x="1295.80" y="378.2" width="4.4" height="3" fill="#b3a572"/><rect x="1295.80" y="455" width="4.4" height="3" fill="#b3a572"/>
<rect x="1265.6" y="408.40" width="3.2" height="4.4" fill="#b3a572"/><rect x="1342.2" y="408.40" width="3.2" height="4.4" fill="#b3a572"/>
<rect x="1303.30" y="378.2" width="4.4" height="3" fill="#b3a572"/><rect x="1303.30" y="455" width="4.4" height="3" fill="#b3a572"/>
<rect x="1265.6" y="415.90" width="3.2" height="4.4" fill="#b3a572"/><rect x="1342.2" y="415.90" width="3.2" height="4.4" fill="#b3a572"/>
<rect x="1310.80" y="378.2" width="4.4" height="3" fill="#b3a572"/><rect x="1310.80" y="455" width="4.4" height="3" fill="#b3a572"/>
<rect x="1265.6" y="423.40" width="3.2" height="4.4" fill="#b3a572"/><rect x="1342.2" y="423.40" width="3.2" height="4.4" fill="#b3a572"/>
<rect x="1318.30" y="378.2" width="4.4" height="3" fill="#b3a572"/><rect x="1318.30" y="455" width="4.4" height="3" fill="#b3a572"/>
<rect x="1265.6" y="430.90" width="3.2" height="4.4" fill="#b3a572"/><rect x="1342.2" y="430.90" width="3.2" height="4.4" fill="#b3a572"/>
<rect x="1325.80" y="378.2" width="4.4" height="3" fill="#b3a572"/><rect x="1325.80" y="455" width="4.4" height="3" fill="#b3a572"/>
<rect x="1265.6" y="438.40" width="3.2" height="4.4" fill="#b3a572"/><rect x="1342.2" y="438.40" width="3.2" height="4.4" fill="#b3a572"/>
<circle cx="1279.4" cy="391.4" r="3.1" fill="#6a6a6a"/>
<text x="1307.6" y="399.6" font-family="Liberation Sans, sans-serif" font-size="11.8" fill="#4e4e4e" text-anchor="middle">SILABS</text>
<text x="1307.6" y="416" font-family="Liberation Sans, sans-serif" font-size="11.8" fill="#4e4e4e" text-anchor="middle">CP2102</text>
<text x="1307.6" y="430.5" font-family="Liberation Sans, sans-serif" font-size="11.8" fill="#4e4e4e" text-anchor="middle">DCL00X</text>
<text x="1307.6" y="444.2" font-family="Liberation Sans, sans-serif" font-size="11.8" fill="#4e4e4e" text-anchor="middle">1708*</text>
<rect x="1360.8" y="337.5" width="10" height="18.4" fill="#8b8b8b"/><rect x="1430.3999999999999" y="337.5" width="10" height="18.4" fill="#8b8b8b"/>
<path d="M1378.6,326.09999999999997 H1422.6 l2.4,3.2 H1432.1999999999998 V336.3 a2.6,2.6 0 0 0 0,5.2 V351.9 a2.6,2.6 0 0 0 0,5.2 V364.09999999999997 H1425.0 l-2.4,3.2 H1378.6 l-2.4,-3.2 H1369.0 V357.09999999999997 a2.6,2.6 0 0 0 0,-5.2 V341.5 a2.6,2.6 0 0 0 0,-5.2 V329.3 H1376.1999999999998 Z" fill="#d8d8d8" stroke="#242424" stroke-width="1.7" stroke-linejoin="round"/>
<rect x="1379.1999999999998" y="326.99999999999994" width="42.8" height="1.9" fill="#f6f6f6"/><rect x="1379.1999999999998" y="364.5" width="42.8" height="1.9" fill="#f6f6f6"/>
<circle cx="1400.6" cy="346.7" r="14.4" fill="#8b8b8b" stroke="#272727" stroke-width="1.5"/>
<rect x="1360.8" y="518.5999999999999" width="10" height="18.4" fill="#8b8b8b"/><rect x="1430.3999999999999" y="518.5999999999999" width="10" height="18.4" fill="#8b8b8b"/>
<path d="M1378.6,507.19999999999993 H1422.6 l2.4,3.2 H1432.1999999999998 V517.4 a2.6,2.6 0 0 0 0,5.2 V533.0 a2.6,2.6 0 0 0 0,5.2 V545.1999999999999 H1425.0 l-2.4,3.2 H1378.6 l-2.4,-3.2 H1369.0 V538.1999999999999 a2.6,2.6 0 0 0 0,-5.2 V522.5999999999999 a2.6,2.6 0 0 0 0,-5.2 V510.4 H1376.1999999999998 Z" fill="#d8d8d8" stroke="#242424" stroke-width="1.7" stroke-linejoin="round"/>
<rect x="1379.1999999999998" y="508.0999999999999" width="42.8" height="1.9" fill="#f6f6f6"/><rect x="1379.1999999999998" y="545.6" width="42.8" height="1.9" fill="#f6f6f6"/>
<circle cx="1400.6" cy="527.8" r="14.4" fill="#8b8b8b" stroke="#272727" stroke-width="1.5"/>
<text transform="translate(1345.2,346.6) rotate(-90)" font-family="Liberation Sans, sans-serif" font-size="17" fill="#e4e4e4" text-anchor="middle" dy="6" textLength="55" lengthAdjust="spacingAndGlyphs">FLASH</text>
<text transform="translate(1345.2,527.8) rotate(-90)" font-family="Liberation Sans, sans-serif" font-size="17" fill="#e4e4e4" text-anchor="middle" dy="6" textLength="31.5" lengthAdjust="spacingAndGlyphs">RST</text>
<circle cx="1377.5" cy="401" r="7.2" fill="#9a9a9a"/><circle cx="1377.5" cy="473" r="7.2" fill="#9a9a9a"/>
<rect x="1367.4" y="414.70" width="11" height="3" fill="#8c8c8c"/>
<rect x="1367.4" y="425.10" width="11" height="3" fill="#8c8c8c"/>
<rect x="1367.4" y="435.50" width="11" height="3" fill="#8c8c8c"/>
<rect x="1367.4" y="445.90" width="11" height="3" fill="#8c8c8c"/>
<rect x="1367.4" y="456.10" width="11" height="3" fill="#8c8c8c"/>
<rect x="1376.9" y="381.8" width="78.8" height="110.4" fill="#e3e3e3"/>
<rect x="1376.9" y="381.8" width="78.8" height="3.4" fill="#b4b4b4"/>
<rect x="1376.9" y="488.8" width="78.8" height="3.6" fill="#b4b4b4"/>
<path d="M1455.6,381.8 l3.4,-3.6 l2.6,2.2 l-3,4.8 V391 H1461.6 V483 H1458.4 l3.2,6 l-2.8,2.6 l-3.2,-3.4 Z" fill="#d2d2d2" stroke="#bdbdbd" stroke-width="0.6"/>
<rect x="1455.6" y="391" width="2.4" height="92" fill="#bcbcbc"/>
<rect x="1437" y="397.0" width="6.6" height="8.4" fill="#9a9a9a"/><rect x="1439.2" y="399.0" width="2.6" height="4.4" fill="#d6d6d6"/>
<path d="M1420,395.8 a5.4,5.4 0 0 0 0,10.8 h6.5 q3,2.4 6,2 a7.4,7.4 0 0 0 0,-14.8 q-3,-0.4 -6,2 Z" fill="#333"/>
<rect x="1437" y="468.0" width="6.6" height="8.4" fill="#9a9a9a"/><rect x="1439.2" y="470.0" width="2.6" height="4.4" fill="#d6d6d6"/>
<path d="M1420,466.8 a5.4,5.4 0 0 0 0,10.8 h6.5 q3,2.4 6,2 a7.4,7.4 0 0 0 0,-14.8 q-3,-0.4 -6,2 Z" fill="#333"/>
<path d="M1376.9,404.4 h14 q3,0 3,3 v8.6 q0,2.4 2,3.6 q0.8,5.6 -4.6,5.8 h-12 v-13 h-1.6 Z" fill="#343434"/>
<path d="M1376.9,469.2 h14 q3,0 3,-3 v-8.6 q0,-2.4 2,-3.6 q0.8,-5.6 -4.6,-5.8 h-12 v13 h-1.6 Z" fill="#343434"/>
<rect x="1377" y="414" width="2.4" height="11" fill="#8c8c8c"/><rect x="1377" y="448.6" width="2.4" height="11" fill="#8c8c8c"/>
<text transform="translate(1250.2,438.5) rotate(-24.95)" font-family="Liberation Sans, sans-serif" font-size="34.5" fill="#d2d6e0" stroke="#d2d6e0" stroke-width="1.7" stroke-linejoin="round" opacity="0.8" text-anchor="middle" textLength="226" lengthAdjust="spacing">newbiely.com</text>
</g>
<path d="M416.15,267.80 C492.2,163.2 736.5,174.7 905.60,230.15" fill="none" stroke="#e612e6" stroke-width="16.4" stroke-linecap="round"/>
<path d="M416.15,267.80 C492.2,163.2 736.5,174.7 905.60,230.15" fill="none" stroke="#ff3cf4" stroke-width="9.2" stroke-linecap="round"/>
<circle cx="416.15" cy="267.80" r="8.2" fill="#2fd82f" opacity="0.33"/>
<circle cx="905.60" cy="230.15" r="8.2" fill="#2fd82f" opacity="0.33"/>
<path d="M378.50,230.15 C516.4,98.9 719.3,112.4 867.95,192.50" fill="none" stroke="#d8d818" stroke-width="16.4" stroke-linecap="round"/>
<path d="M378.50,230.15 C516.4,98.9 719.3,112.4 867.95,192.50" fill="none" stroke="#ffff00" stroke-width="9.2" stroke-linecap="round"/>
<circle cx="378.50" cy="230.15" r="8.2" fill="#2fd82f" opacity="0.33"/>
<circle cx="867.95" cy="192.50" r="8.2" fill="#2fd82f" opacity="0.33"/>
<path d="M303.20,267.80 C532.5,9.4 686.0,72.3 1018.55,230.15" fill="none" stroke="#9a0505" stroke-width="16.4" stroke-linecap="round"/>
<path d="M303.20,267.80 C532.5,9.4 686.0,72.3 1018.55,230.15" fill="none" stroke="#cc1414" stroke-width="9.2" stroke-linecap="round"/>
<circle cx="303.20" cy="267.80" r="8.2" fill="#2fd82f" opacity="0.33"/>
<circle cx="1018.55" cy="230.15" r="8.2" fill="#2fd82f" opacity="0.33"/>
<path d="M340.85,192.50 C271.9,-66.1 705.6,54.9 1056.20,192.50" fill="none" stroke="#000000" stroke-width="16.4" stroke-linecap="round"/>
<path d="M340.85,192.50 C271.9,-66.1 705.6,54.9 1056.20,192.50" fill="none" stroke="#454545" stroke-width="9.2" stroke-linecap="round"/>
<circle cx="340.85" cy="192.50" r="8.2" fill="#2fd82f" opacity="0.33"/>
<circle cx="1056.20" cy="192.50" r="8.2" fill="#2fd82f" opacity="0.33"/>
<g id="logo">
<path d="M1380.6,65.4 Q1394,73.4 1409.6,72.7 Q1425,73.4 1438.4,65.3 Q1441.2,64.4 1441.2,68 C1441.8,80 1442.2,96 1440.4,112.4 H1379 C1377.2,96 1377.6,80 1378.2,68 Q1378.2,64.4 1380.6,65.4 Z" fill="#55c3ea"/>
<circle cx="1395.2" cy="95.4" r="4.9" fill="#fff"/><circle cx="1423.6" cy="95.4" r="4.9" fill="#fff"/>
<path d="M1409.4,100.6 l2.7,3.2 l-2.7,3.2 l-2.7,-3.2 Z" fill="#fff"/>
<circle cx="1392.8" cy="93.1" r="13.6" fill="none" stroke="#f3b436" stroke-width="3.9"/><circle cx="1426.8" cy="93.1" r="13.6" fill="none" stroke="#f3b436" stroke-width="3.9"/>
<path d="M1405.6,91 h8.4" stroke="#f3b436" stroke-width="3.4" fill="none"/>
<path d="M1369.6,112 H1450.4 Q1454.8,112 1454,116.2 L1448,149 Q1447.2,153.2 1442.8,153.2 H1377.2 Q1372.8,153.2 1372,149 L1366,116.2 Q1365.2,112 1369.6,112 Z" fill="#403d72"/>
<ellipse cx="1409" cy="132.7" rx="4.9" ry="3.9" fill="#f3b436"/>
<text x="1407.6" y="176.8" font-family="Liberation Sans, sans-serif" font-size="23.6" font-weight="bold" fill="#5bc6ec" text-anchor="middle" textLength="159.5" lengthAdjust="spacing">newbiely.com</text>
</g>
</g>
</svg>
</body></html>
